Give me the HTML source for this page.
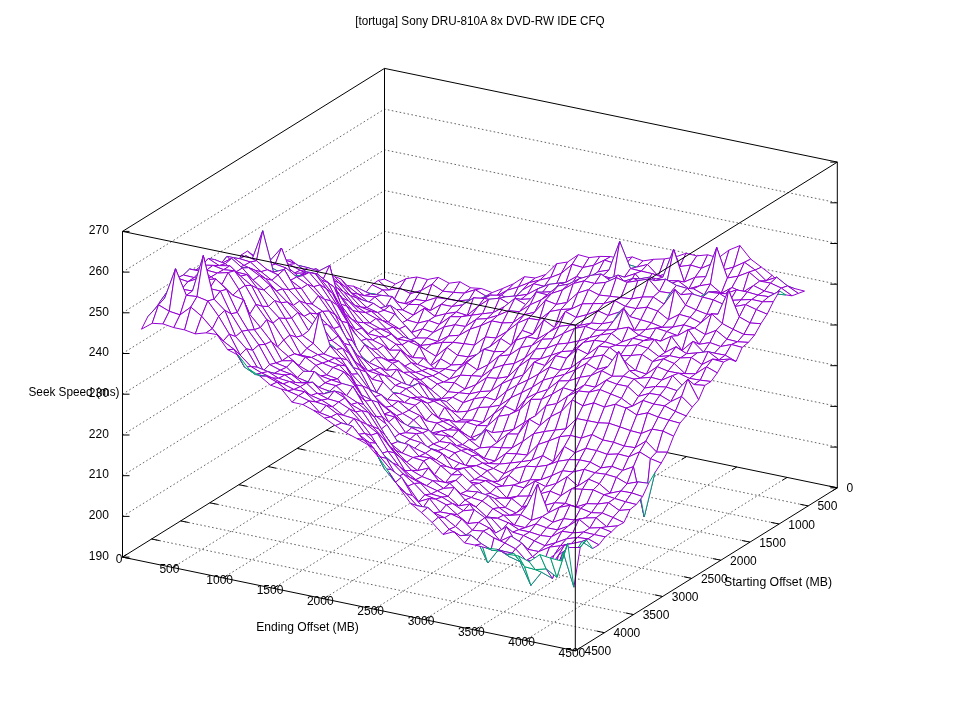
<!DOCTYPE html>
<html><head><meta charset="utf-8"><style>
html,body{margin:0;padding:0;background:#fff;}
svg{display:block;will-change:transform;}
.g{fill:none;stroke:#222;stroke-width:.7;stroke-dasharray:1.6 2.4;}
.b{fill:none;stroke:#000;stroke-width:1;}
.s{fill:#fff;stroke:#9400d3;stroke-width:1;stroke-linejoin:round;}
.t{fill:#fff;stroke:#009e73;stroke-width:1;stroke-linejoin:round;}
text{font-family:"Liberation Sans",sans-serif;font-size:12px;fill:#000;}
</style></head><body>
<svg width="960" height="720" viewBox="0 0 960 720">
<rect width="960" height="720" fill="#fff"/>
<g><path class="g" d="M122.5 516.4 L384.5 353.4 L837.3 447.1"/>
<path class="g" d="M122.5 475.7 L384.5 312.7 L837.3 406.4"/>
<path class="g" d="M122.5 435 L384.5 272 L837.3 365.7"/>
<path class="g" d="M122.5 394.2 L384.5 231.3 L837.3 325"/>
<path class="g" d="M122.5 353.5 L384.5 190.5 L837.3 284.2"/>
<path class="g" d="M122.5 312.8 L384.5 149.8 L837.3 243.5"/>
<path class="g" d="M122.5 272.1 L384.5 109.1 L837.3 202.8"/>
<path class="g" d="M434.8 404.5 L172.8 567.5"/>
<path class="g" d="M355.4 412.2 L808.2 505.9"/>
<path class="g" d="M485.1 414.9 L223.1 577.9"/>
<path class="g" d="M326.3 430.3 L779.1 524"/>
<path class="g" d="M535.4 425.3 L273.4 588.3"/>
<path class="g" d="M297.2 448.4 L750 542.1"/>
<path class="g" d="M585.7 435.7 L323.7 598.7"/>
<path class="g" d="M268.1 466.5 L720.9 560.2"/>
<path class="g" d="M636.1 446.2 L374.1 609.2"/>
<path class="g" d="M238.9 484.7 L691.7 578.4"/>
<path class="g" d="M686.4 456.6 L424.4 619.6"/>
<path class="g" d="M209.8 502.8 L662.6 596.5"/>
<path class="g" d="M736.7 467 L474.7 630"/>
<path class="g" d="M180.7 520.9 L633.5 614.6"/>
<path class="g" d="M787 477.4 L525 640.4"/>
<path class="g" d="M151.6 539 L604.4 632.7"/>
<path class="b" d="M122.5 231.4 L384.5 68.4 L837.3 162.1"/>
<path class="b" d="M384.5 394.1 L384.5 68.4"/>
<path class="b" d="M122.5 557.1 L384.5 394.1 L837.3 487.8"/>
<path class="b" d="M122.5 557.1 L575.3 650.8 L837.3 487.8"/>
<path class="b" d="M122.5 557.1 L122.5 231.4"/>
<path class="b" d="M837.3 487.8 L837.3 162.1"/>
<path class="b" d="M122.5 557.1 L127.1 554.2"/>
<path class="b" d="M384.5 394.1 L379.9 397"/>
<path class="b" d="M837.3 487.8 L829.4 486.2"/>
<path class="b" d="M384.5 394.1 L392.4 395.7"/>
<path class="b" d="M172.8 567.5 L177.4 564.6"/>
<path class="b" d="M434.8 404.5 L430.2 407.4"/>
<path class="b" d="M808.2 505.9 L800.2 504.3"/>
<path class="b" d="M355.4 412.2 L363.3 413.9"/>
<path class="b" d="M223.1 577.9 L227.7 575.1"/>
<path class="b" d="M485.1 414.9 L480.5 417.8"/>
<path class="b" d="M779.1 524 L771.1 522.4"/>
<path class="b" d="M326.3 430.3 L334.2 432"/>
<path class="b" d="M273.4 588.3 L278 585.5"/>
<path class="b" d="M535.4 425.3 L530.8 428.2"/>
<path class="b" d="M750 542.1 L742 540.5"/>
<path class="b" d="M297.2 448.4 L305.1 450.1"/>
<path class="b" d="M323.7 598.7 L328.3 595.9"/>
<path class="b" d="M585.7 435.7 L581.1 438.6"/>
<path class="b" d="M720.9 560.2 L712.9 558.6"/>
<path class="b" d="M268.1 466.5 L276 468.2"/>
<path class="b" d="M374.1 609.2 L378.7 606.3"/>
<path class="b" d="M636.1 446.2 L631.5 449"/>
<path class="b" d="M691.7 578.4 L683.8 576.7"/>
<path class="b" d="M238.9 484.7 L246.9 486.3"/>
<path class="b" d="M424.4 619.6 L429 616.7"/>
<path class="b" d="M686.4 456.6 L681.8 459.4"/>
<path class="b" d="M662.6 596.5 L654.7 594.8"/>
<path class="b" d="M209.8 502.8 L217.8 504.4"/>
<path class="b" d="M474.7 630 L479.3 627.1"/>
<path class="b" d="M736.7 467 L732.1 469.8"/>
<path class="b" d="M633.5 614.6 L625.6 612.9"/>
<path class="b" d="M180.7 520.9 L188.7 522.5"/>
<path class="b" d="M525 640.4 L529.6 637.5"/>
<path class="b" d="M787 477.4 L782.4 480.3"/>
<path class="b" d="M604.4 632.7 L596.5 631"/>
<path class="b" d="M151.6 539 L159.6 540.6"/>
<path class="b" d="M575.3 650.8 L579.9 647.9"/>
<path class="b" d="M837.3 487.8 L832.7 490.7"/>
<path class="b" d="M575.3 650.8 L567.4 649.2"/>
<path class="b" d="M122.5 557.1 L130.4 558.7"/>
<path class="b" d="M122.5 557.1 L129.5 557.1"/>
<path class="b" d="M837.3 487.8 L830.3 487.8"/>
<path class="b" d="M122.5 516.4 L129.5 516.4"/>
<path class="b" d="M837.3 447.1 L830.3 447.1"/>
<path class="b" d="M122.5 475.7 L129.5 475.7"/>
<path class="b" d="M837.3 406.4 L830.3 406.4"/>
<path class="b" d="M122.5 435 L129.5 435"/>
<path class="b" d="M837.3 365.7 L830.3 365.7"/>
<path class="b" d="M122.5 394.2 L129.5 394.2"/>
<path class="b" d="M837.3 325 L830.3 325"/>
<path class="b" d="M122.5 353.5 L129.5 353.5"/>
<path class="b" d="M837.3 284.2 L830.3 284.2"/>
<path class="b" d="M122.5 312.8 L129.5 312.8"/>
<path class="b" d="M837.3 243.5 L830.3 243.5"/>
<path class="b" d="M122.5 272.1 L129.5 272.1"/>
<path class="b" d="M837.3 202.8 L830.3 202.8"/>
<path class="b" d="M122.5 231.4 L129.5 231.4"/>
<path class="b" d="M837.3 162.1 L830.3 162.1"/></g>
<g><path class="s" d="M384.5 279.1 L395.3 284.1 L389.0 290.1 L378.3 280.4Z"/>
<path class="s" d="M378.3 280.4 L389.0 290.1 L382.8 290.0 L372.0 284.8Z"/>
<path class="s" d="M372.0 284.8 L382.8 290.0 L376.6 294.5 L365.8 292.6Z"/>
<path class="t" d="M365.8 292.6 L376.6 294.5 L370.3 294.1 L359.6 288.8Z"/>
<path class="s" d="M359.6 288.8 L370.3 294.1 L364.1 295.7 L353.3 286.2Z"/>
<path class="s" d="M353.3 286.2 L364.1 295.7 L357.9 294.0 L347.1 285.5Z"/>
<path class="s" d="M347.1 285.5 L357.9 294.0 L351.7 293.2 L340.9 278.9Z"/>
<path class="s" d="M340.9 278.9 L351.7 293.2 L345.4 287.2 L334.6 276.6Z"/>
<path class="s" d="M334.6 276.6 L345.4 287.2 L339.2 283.0 L328.4 274.1Z"/>
<path class="s" d="M328.4 274.1 L339.2 283.0 L333.0 280.5 L322.2 272.4Z"/>
<path class="s" d="M322.2 272.4 L333.0 280.5 L326.7 279.5 L316.0 268.6Z"/>
<path class="s" d="M316.0 268.6 L326.7 279.5 L320.5 271.4 L309.7 270.3Z"/>
<path class="s" d="M309.7 270.3 L320.5 271.4 L314.3 272.7 L303.5 266.7Z"/>
<path class="t" d="M303.5 266.7 L314.3 272.7 L308.0 267.7 L297.3 265.2Z"/>
<path class="s" d="M297.3 265.2 L308.0 267.7 L301.8 271.6 L291.0 259.9Z"/>
<path class="s" d="M291.0 259.9 L301.8 271.6 L295.6 263.6 L284.8 260.0Z"/>
<path class="s" d="M284.8 260.0 L295.6 263.6 L289.3 264.5 L278.6 259.6Z"/>
<path class="s" d="M278.6 259.6 L289.3 264.5 L283.1 266.6 L272.3 259.8Z"/>
<path class="s" d="M272.3 259.8 L283.1 266.6 L276.9 262.4 L266.1 257.2Z"/>
<path class="s" d="M266.1 257.2 L276.9 262.4 L270.6 260.0 L259.9 255.5Z"/>
<path class="s" d="M259.9 255.5 L270.6 260.0 L264.4 258.1 L253.6 255.4Z"/>
<path class="s" d="M253.6 255.4 L264.4 258.1 L258.2 260.7 L247.4 251.1Z"/>
<path class="s" d="M247.4 251.1 L258.2 260.7 L251.9 260.0 L241.2 255.0Z"/>
<path class="s" d="M241.2 255.0 L251.9 260.0 L245.7 255.8 L234.9 269.0Z"/>
<path class="t" d="M234.9 269.0 L245.7 255.8 L239.5 258.7 L228.7 269.0Z"/>
<path class="t" d="M228.7 269.0 L239.5 258.7 L233.3 257.6 L222.5 266.3Z"/>
<path class="t" d="M222.5 266.3 L233.3 257.6 L227.0 256.4 L216.3 269.3Z"/>
<path class="t" d="M216.3 269.3 L227.0 256.4 L220.8 263.8 L210.0 270.2Z"/>
<path class="t" d="M210.0 270.2 L220.8 263.8 L214.6 259.6 L203.8 273.2Z"/>
<path class="t" d="M203.8 273.2 L214.6 259.6 L208.3 258.5 L197.6 270.6Z"/>
<path class="s" d="M197.6 270.6 L208.3 258.5 L202.1 265.1 L191.3 283.2Z"/>
<path class="t" d="M191.3 283.2 L202.1 265.1 L195.9 270.1 L185.1 284.4Z"/>
<path class="t" d="M185.1 284.4 L195.9 270.1 L189.6 269.1 L178.9 281.3Z"/>
<path class="t" d="M178.9 281.3 L189.6 269.1 L183.4 275.0 L172.6 289.5Z"/>
<path class="t" d="M172.6 289.5 L183.4 275.0 L177.2 278.0 L166.4 293.5Z"/>
<path class="t" d="M166.4 293.5 L177.2 278.0 L170.9 286.6 L160.2 301.4Z"/>
<path class="s" d="M160.2 301.4 L170.9 286.6 L164.7 298.1 L153.9 310.8Z"/>
<path class="t" d="M153.9 310.8 L164.7 298.1 L158.5 304.9 L147.7 316.8Z"/>
<path class="s" d="M147.7 316.8 L158.5 304.9 L152.2 323.3 L141.5 329.2Z"/>
<path class="s" d="M395.3 284.1 L406.0 278.7 L399.8 288.1 L389.0 290.1Z"/>
<path class="s" d="M389.0 290.1 L399.8 288.1 L393.6 300.9 L382.8 290.0Z"/>
<path class="s" d="M382.8 290.0 L393.6 300.9 L387.3 300.4 L376.6 294.5Z"/>
<path class="t" d="M376.6 294.5 L387.3 300.4 L381.1 295.3 L370.3 294.1Z"/>
<path class="s" d="M370.3 294.1 L381.1 295.3 L374.9 297.0 L364.1 295.7Z"/>
<path class="s" d="M364.1 295.7 L374.9 297.0 L368.7 302.3 L357.9 294.0Z"/>
<path class="s" d="M357.9 294.0 L368.7 302.3 L362.4 300.0 L351.7 293.2Z"/>
<path class="s" d="M351.7 293.2 L362.4 300.0 L356.2 297.8 L345.4 287.2Z"/>
<path class="s" d="M345.4 287.2 L356.2 297.8 L350.0 295.4 L339.2 283.0Z"/>
<path class="s" d="M339.2 283.0 L350.0 295.4 L343.7 291.8 L333.0 280.5Z"/>
<path class="s" d="M333.0 280.5 L343.7 291.8 L337.5 288.1 L326.7 279.5Z"/>
<path class="t" d="M326.7 279.5 L337.5 288.1 L331.3 283.3 L320.5 271.4Z"/>
<path class="s" d="M320.5 271.4 L331.3 283.3 L325.0 277.9 L314.3 272.7Z"/>
<path class="t" d="M314.3 272.7 L325.0 277.9 L318.8 271.1 L308.0 267.7Z"/>
<path class="s" d="M308.0 267.7 L318.8 271.1 L312.6 278.8 L301.8 271.6Z"/>
<path class="t" d="M301.8 271.6 L312.6 278.8 L306.3 271.8 L295.6 263.6Z"/>
<path class="s" d="M295.6 263.6 L306.3 271.8 L300.1 270.3 L289.3 264.5Z"/>
<path class="s" d="M289.3 264.5 L300.1 270.3 L293.9 273.4 L283.1 266.6Z"/>
<path class="t" d="M283.1 266.6 L293.9 273.4 L287.6 267.3 L276.9 262.4Z"/>
<path class="t" d="M276.9 262.4 L287.6 267.3 L281.4 248.0 L270.6 260.0Z"/>
<path class="s" d="M270.6 260.0 L281.4 248.0 L275.2 264.1 L264.4 258.1Z"/>
<path class="s" d="M264.4 258.1 L275.2 264.1 L269.0 266.3 L258.2 260.7Z"/>
<path class="t" d="M258.2 260.7 L269.0 266.3 L262.7 230.8 L251.9 260.0Z"/>
<path class="s" d="M251.9 260.0 L262.7 230.8 L256.5 260.8 L245.7 255.8Z"/>
<path class="s" d="M245.7 255.8 L256.5 260.8 L250.3 262.0 L239.5 258.7Z"/>
<path class="s" d="M239.5 258.7 L250.3 262.0 L244.0 265.5 L233.3 257.6Z"/>
<path class="s" d="M233.3 257.6 L244.0 265.5 L237.8 267.8 L227.0 256.4Z"/>
<path class="s" d="M227.0 256.4 L237.8 267.8 L231.6 258.4 L220.8 263.8Z"/>
<path class="s" d="M220.8 263.8 L231.6 258.4 L225.3 263.8 L214.6 259.6Z"/>
<path class="s" d="M214.6 259.6 L225.3 263.8 L219.1 265.6 L208.3 258.5Z"/>
<path class="s" d="M208.3 258.5 L219.1 265.6 L212.9 265.4 L202.1 265.1Z"/>
<path class="s" d="M202.1 265.1 L212.9 265.4 L206.6 270.2 L195.9 270.1Z"/>
<path class="s" d="M195.9 270.1 L206.6 270.2 L200.4 271.2 L189.6 269.1Z"/>
<path class="s" d="M189.6 269.1 L200.4 271.2 L194.2 277.6 L183.4 275.0Z"/>
<path class="s" d="M183.4 275.0 L194.2 277.6 L187.9 281.7 L177.2 278.0Z"/>
<path class="s" d="M177.2 278.0 L187.9 281.7 L181.7 289.2 L170.9 286.6Z"/>
<path class="t" d="M170.9 286.6 L181.7 289.2 L175.5 268.8 L164.7 298.1Z"/>
<path class="s" d="M164.7 298.1 L175.5 268.8 L169.3 311.3 L158.5 304.9Z"/>
<path class="s" d="M158.5 304.9 L169.3 311.3 L163.0 323.9 L152.2 323.3Z"/>
<path class="s" d="M406.0 278.7 L416.8 277.0 L410.6 293.7 L399.8 288.1Z"/>
<path class="s" d="M399.8 288.1 L410.6 293.7 L404.3 304.1 L393.6 300.9Z"/>
<path class="s" d="M393.6 300.9 L404.3 304.1 L398.1 302.2 L387.3 300.4Z"/>
<path class="t" d="M387.3 300.4 L398.1 302.2 L391.9 296.5 L381.1 295.3Z"/>
<path class="s" d="M381.1 295.3 L391.9 296.5 L385.7 307.1 L374.9 297.0Z"/>
<path class="s" d="M374.9 297.0 L385.7 307.1 L379.4 308.2 L368.7 302.3Z"/>
<path class="t" d="M368.7 302.3 L379.4 308.2 L373.2 303.3 L362.4 300.0Z"/>
<path class="s" d="M362.4 300.0 L373.2 303.3 L367.0 307.7 L356.2 297.8Z"/>
<path class="s" d="M356.2 297.8 L367.0 307.7 L360.7 307.1 L350.0 295.4Z"/>
<path class="s" d="M350.0 295.4 L360.7 307.1 L354.5 305.3 L343.7 291.8Z"/>
<path class="s" d="M343.7 291.8 L354.5 305.3 L348.3 300.8 L337.5 288.1Z"/>
<path class="s" d="M337.5 288.1 L348.3 300.8 L342.0 298.1 L331.3 283.3Z"/>
<path class="s" d="M331.3 283.3 L342.0 298.1 L335.8 289.3 L325.0 277.9Z"/>
<path class="t" d="M325.0 277.9 L335.8 289.3 L329.6 265.5 L318.8 271.1Z"/>
<path class="s" d="M318.8 271.1 L329.6 265.5 L323.3 278.9 L312.6 278.8Z"/>
<path class="t" d="M312.6 278.8 L323.3 278.9 L317.1 273.9 L306.3 271.8Z"/>
<path class="s" d="M306.3 271.8 L317.1 273.9 L310.9 275.8 L300.1 270.3Z"/>
<path class="s" d="M300.1 270.3 L310.9 275.8 L304.6 273.0 L293.9 273.4Z"/>
<path class="s" d="M293.9 273.4 L304.6 273.0 L298.4 276.2 L287.6 267.3Z"/>
<path class="s" d="M287.6 267.3 L298.4 276.2 L292.2 275.7 L281.4 248.0Z"/>
<path class="s" d="M281.4 248.0 L292.2 275.7 L286.0 268.0 L275.2 264.1Z"/>
<path class="s" d="M275.2 264.1 L286.0 268.0 L279.7 272.2 L269.0 266.3Z"/>
<path class="t" d="M269.0 266.3 L279.7 272.2 L273.5 272.1 L262.7 230.8Z"/>
<path class="s" d="M262.7 230.8 L273.5 272.1 L267.3 269.8 L256.5 260.8Z"/>
<path class="s" d="M256.5 260.8 L267.3 269.8 L261.0 271.7 L250.3 262.0Z"/>
<path class="s" d="M250.3 262.0 L261.0 271.7 L254.8 270.3 L244.0 265.5Z"/>
<path class="s" d="M244.0 265.5 L254.8 270.3 L248.6 267.7 L237.8 267.8Z"/>
<path class="t" d="M237.8 267.8 L248.6 267.7 L242.3 268.0 L231.6 258.4Z"/>
<path class="s" d="M231.6 258.4 L242.3 268.0 L236.1 272.0 L225.3 263.8Z"/>
<path class="s" d="M225.3 263.8 L236.1 272.0 L229.9 265.8 L219.1 265.6Z"/>
<path class="s" d="M219.1 265.6 L229.9 265.8 L223.6 269.7 L212.9 265.4Z"/>
<path class="s" d="M212.9 265.4 L223.6 269.7 L217.4 273.1 L206.6 270.2Z"/>
<path class="s" d="M206.6 270.2 L217.4 273.1 L211.2 276.9 L200.4 271.2Z"/>
<path class="s" d="M200.4 271.2 L211.2 276.9 L204.9 279.8 L194.2 277.6Z"/>
<path class="s" d="M194.2 277.6 L204.9 279.8 L198.7 278.3 L187.9 281.7Z"/>
<path class="s" d="M187.9 281.7 L198.7 278.3 L192.5 291.0 L181.7 289.2Z"/>
<path class="s" d="M181.7 289.2 L192.5 291.0 L186.3 295.3 L175.5 268.8Z"/>
<path class="s" d="M175.5 268.8 L186.3 295.3 L180.0 314.9 L169.3 311.3Z"/>
<path class="s" d="M169.3 311.3 L180.0 314.9 L173.8 327.6 L163.0 323.9Z"/>
<path class="s" d="M416.8 277.0 L427.6 279.5 L421.3 290.5 L410.6 293.7Z"/>
<path class="s" d="M410.6 293.7 L421.3 290.5 L415.1 299.4 L404.3 304.1Z"/>
<path class="s" d="M404.3 304.1 L415.1 299.4 L408.9 304.4 L398.1 302.2Z"/>
<path class="s" d="M398.1 302.2 L408.9 304.4 L402.7 310.0 L391.9 296.5Z"/>
<path class="s" d="M391.9 296.5 L402.7 310.0 L396.4 309.5 L385.7 307.1Z"/>
<path class="t" d="M385.7 307.1 L396.4 309.5 L390.2 305.3 L379.4 308.2Z"/>
<path class="s" d="M379.4 308.2 L390.2 305.3 L384.0 310.3 L373.2 303.3Z"/>
<path class="s" d="M373.2 303.3 L384.0 310.3 L377.7 312.6 L367.0 307.7Z"/>
<path class="s" d="M367.0 307.7 L377.7 312.6 L371.5 311.4 L360.7 307.1Z"/>
<path class="s" d="M360.7 307.1 L371.5 311.4 L365.3 312.5 L354.5 305.3Z"/>
<path class="s" d="M354.5 305.3 L365.3 312.5 L359.0 311.9 L348.3 300.8Z"/>
<path class="s" d="M348.3 300.8 L359.0 311.9 L352.8 310.7 L342.0 298.1Z"/>
<path class="s" d="M342.0 298.1 L352.8 310.7 L346.6 306.0 L335.8 289.3Z"/>
<path class="s" d="M335.8 289.3 L346.6 306.0 L340.3 304.1 L329.6 265.5Z"/>
<path class="s" d="M329.6 265.5 L340.3 304.1 L334.1 287.2 L323.3 278.9Z"/>
<path class="s" d="M323.3 278.9 L334.1 287.2 L327.9 282.6 L317.1 273.9Z"/>
<path class="s" d="M317.1 273.9 L327.9 282.6 L321.6 280.1 L310.9 275.8Z"/>
<path class="t" d="M310.9 275.8 L321.6 280.1 L315.4 273.9 L304.6 273.0Z"/>
<path class="s" d="M304.6 273.0 L315.4 273.9 L309.2 272.5 L298.4 276.2Z"/>
<path class="s" d="M298.4 276.2 L309.2 272.5 L303.0 275.6 L292.2 275.7Z"/>
<path class="t" d="M292.2 275.7 L303.0 275.6 L296.7 277.0 L286.0 268.0Z"/>
<path class="s" d="M286.0 268.0 L296.7 277.0 L290.5 280.3 L279.7 272.2Z"/>
<path class="t" d="M279.7 272.2 L290.5 280.3 L284.3 269.4 L273.5 272.1Z"/>
<path class="s" d="M273.5 272.1 L284.3 269.4 L278.0 274.9 L267.3 269.8Z"/>
<path class="s" d="M267.3 269.8 L278.0 274.9 L271.8 280.3 L261.0 271.7Z"/>
<path class="s" d="M261.0 271.7 L271.8 280.3 L265.6 278.7 L254.8 270.3Z"/>
<path class="s" d="M254.8 270.3 L265.6 278.7 L259.3 275.7 L248.6 267.7Z"/>
<path class="s" d="M248.6 267.7 L259.3 275.7 L253.1 280.1 L242.3 268.0Z"/>
<path class="s" d="M242.3 268.0 L253.1 280.1 L246.9 274.7 L236.1 272.0Z"/>
<path class="s" d="M236.1 272.0 L246.9 274.7 L240.6 276.2 L229.9 265.8Z"/>
<path class="s" d="M229.9 265.8 L240.6 276.2 L234.4 270.8 L223.6 269.7Z"/>
<path class="s" d="M223.6 269.7 L234.4 270.8 L228.2 272.6 L217.4 273.1Z"/>
<path class="s" d="M217.4 273.1 L228.2 272.6 L221.9 284.5 L211.2 276.9Z"/>
<path class="s" d="M211.2 276.9 L221.9 284.5 L215.7 279.0 L204.9 279.8Z"/>
<path class="s" d="M204.9 279.8 L215.7 279.0 L209.5 288.5 L198.7 278.3Z"/>
<path class="t" d="M198.7 278.3 L209.5 288.5 L203.3 255.6 L192.5 291.0Z"/>
<path class="s" d="M192.5 291.0 L203.3 255.6 L197.0 296.6 L186.3 295.3Z"/>
<path class="s" d="M186.3 295.3 L197.0 296.6 L190.8 307.1 L180.0 314.9Z"/>
<path class="s" d="M180.0 314.9 L190.8 307.1 L184.6 329.9 L173.8 327.6Z"/>
<path class="s" d="M427.6 279.5 L438.3 277.4 L432.1 284.3 L421.3 290.5Z"/>
<path class="s" d="M421.3 290.5 L432.1 284.3 L425.9 301.0 L415.1 299.4Z"/>
<path class="s" d="M415.1 299.4 L425.9 301.0 L419.7 304.6 L408.9 304.4Z"/>
<path class="s" d="M408.9 304.4 L419.7 304.6 L413.4 315.2 L402.7 310.0Z"/>
<path class="s" d="M402.7 310.0 L413.4 315.2 L407.2 320.1 L396.4 309.5Z"/>
<path class="s" d="M396.4 309.5 L407.2 320.1 L401.0 323.4 L390.2 305.3Z"/>
<path class="s" d="M390.2 305.3 L401.0 323.4 L394.7 314.0 L384.0 310.3Z"/>
<path class="s" d="M384.0 310.3 L394.7 314.0 L388.5 322.3 L377.7 312.6Z"/>
<path class="s" d="M377.7 312.6 L388.5 322.3 L382.3 320.5 L371.5 311.4Z"/>
<path class="s" d="M371.5 311.4 L382.3 320.5 L376.0 318.5 L365.3 312.5Z"/>
<path class="s" d="M365.3 312.5 L376.0 318.5 L369.8 323.1 L359.0 311.9Z"/>
<path class="s" d="M359.0 311.9 L369.8 323.1 L363.6 322.7 L352.8 310.7Z"/>
<path class="s" d="M352.8 310.7 L363.6 322.7 L357.3 322.2 L346.6 306.0Z"/>
<path class="s" d="M346.6 306.0 L357.3 322.2 L351.1 318.8 L340.3 304.1Z"/>
<path class="s" d="M340.3 304.1 L351.1 318.8 L344.9 313.9 L334.1 287.2Z"/>
<path class="s" d="M334.1 287.2 L344.9 313.9 L338.6 303.2 L327.9 282.6Z"/>
<path class="s" d="M327.9 282.6 L338.6 303.2 L332.4 293.4 L321.6 280.1Z"/>
<path class="s" d="M321.6 280.1 L332.4 293.4 L326.2 288.6 L315.4 273.9Z"/>
<path class="s" d="M315.4 273.9 L326.2 288.6 L320.0 284.9 L309.2 272.5Z"/>
<path class="s" d="M309.2 272.5 L320.0 284.9 L313.7 286.7 L303.0 275.6Z"/>
<path class="s" d="M303.0 275.6 L313.7 286.7 L307.5 284.5 L296.7 277.0Z"/>
<path class="s" d="M296.7 277.0 L307.5 284.5 L301.3 288.5 L290.5 280.3Z"/>
<path class="s" d="M290.5 280.3 L301.3 288.5 L295.0 288.3 L284.3 269.4Z"/>
<path class="s" d="M284.3 269.4 L295.0 288.3 L288.8 289.8 L278.0 274.9Z"/>
<path class="s" d="M278.0 274.9 L288.8 289.8 L282.6 289.0 L271.8 280.3Z"/>
<path class="s" d="M271.8 280.3 L282.6 289.0 L276.3 290.9 L265.6 278.7Z"/>
<path class="s" d="M265.6 278.7 L276.3 290.9 L270.1 285.4 L259.3 275.7Z"/>
<path class="s" d="M259.3 275.7 L270.1 285.4 L263.9 290.0 L253.1 280.1Z"/>
<path class="s" d="M253.1 280.1 L263.9 290.0 L257.6 288.7 L246.9 274.7Z"/>
<path class="s" d="M246.9 274.7 L257.6 288.7 L251.4 285.4 L240.6 276.2Z"/>
<path class="s" d="M240.6 276.2 L251.4 285.4 L245.2 285.5 L234.4 270.8Z"/>
<path class="s" d="M234.4 270.8 L245.2 285.5 L238.9 289.5 L228.2 272.6Z"/>
<path class="s" d="M228.2 272.6 L238.9 289.5 L232.7 295.3 L221.9 284.5Z"/>
<path class="s" d="M221.9 284.5 L232.7 295.3 L226.5 289.4 L215.7 279.0Z"/>
<path class="s" d="M215.7 279.0 L226.5 289.4 L220.3 291.1 L209.5 288.5Z"/>
<path class="s" d="M209.5 288.5 L220.3 291.1 L214.0 299.2 L203.3 255.6Z"/>
<path class="s" d="M203.3 255.6 L214.0 299.2 L207.8 301.0 L197.0 296.6Z"/>
<path class="s" d="M197.0 296.6 L207.8 301.0 L201.6 316.2 L190.8 307.1Z"/>
<path class="s" d="M190.8 307.1 L201.6 316.2 L195.3 333.9 L184.6 329.9Z"/>
<path class="s" d="M438.3 277.4 L449.1 283.2 L442.9 291.2 L432.1 284.3Z"/>
<path class="s" d="M432.1 284.3 L442.9 291.2 L436.7 297.6 L425.9 301.0Z"/>
<path class="s" d="M425.9 301.0 L436.7 297.6 L430.4 310.6 L419.7 304.6Z"/>
<path class="s" d="M419.7 304.6 L430.4 310.6 L424.2 308.4 L413.4 315.2Z"/>
<path class="s" d="M413.4 315.2 L424.2 308.4 L418.0 323.1 L407.2 320.1Z"/>
<path class="s" d="M407.2 320.1 L418.0 323.1 L411.7 332.5 L401.0 323.4Z"/>
<path class="t" d="M401.0 323.4 L411.7 332.5 L405.5 326.0 L394.7 314.0Z"/>
<path class="s" d="M394.7 314.0 L405.5 326.0 L399.3 328.9 L388.5 322.3Z"/>
<path class="s" d="M388.5 322.3 L399.3 328.9 L393.0 327.1 L382.3 320.5Z"/>
<path class="s" d="M382.3 320.5 L393.0 327.1 L386.8 329.4 L376.0 318.5Z"/>
<path class="s" d="M376.0 318.5 L386.8 329.4 L380.6 329.0 L369.8 323.1Z"/>
<path class="s" d="M369.8 323.1 L380.6 329.0 L374.3 329.3 L363.6 322.7Z"/>
<path class="s" d="M363.6 322.7 L374.3 329.3 L368.1 333.8 L357.3 322.2Z"/>
<path class="s" d="M357.3 322.2 L368.1 333.8 L361.9 328.3 L351.1 318.8Z"/>
<path class="s" d="M351.1 318.8 L361.9 328.3 L355.6 330.0 L344.9 313.9Z"/>
<path class="s" d="M344.9 313.9 L355.6 330.0 L349.4 324.7 L338.6 303.2Z"/>
<path class="s" d="M338.6 303.2 L349.4 324.7 L343.2 314.6 L332.4 293.4Z"/>
<path class="s" d="M332.4 293.4 L343.2 314.6 L337.0 305.1 L326.2 288.6Z"/>
<path class="s" d="M326.2 288.6 L337.0 305.1 L330.7 300.8 L320.0 284.9Z"/>
<path class="s" d="M320.0 284.9 L330.7 300.8 L324.5 299.4 L313.7 286.7Z"/>
<path class="s" d="M313.7 286.7 L324.5 299.4 L318.3 295.8 L307.5 284.5Z"/>
<path class="s" d="M307.5 284.5 L318.3 295.8 L312.0 304.1 L301.3 288.5Z"/>
<path class="s" d="M301.3 288.5 L312.0 304.1 L305.8 303.3 L295.0 288.3Z"/>
<path class="s" d="M295.0 288.3 L305.8 303.3 L299.6 301.0 L288.8 289.8Z"/>
<path class="s" d="M288.8 289.8 L299.6 301.0 L293.3 305.5 L282.6 289.0Z"/>
<path class="s" d="M282.6 289.0 L293.3 305.5 L287.1 302.0 L276.3 290.9Z"/>
<path class="s" d="M276.3 290.9 L287.1 302.0 L280.9 302.8 L270.1 285.4Z"/>
<path class="s" d="M270.1 285.4 L280.9 302.8 L274.6 300.6 L263.9 290.0Z"/>
<path class="s" d="M263.9 290.0 L274.6 300.6 L268.4 306.5 L257.6 288.7Z"/>
<path class="s" d="M257.6 288.7 L268.4 306.5 L262.2 306.3 L251.4 285.4Z"/>
<path class="s" d="M251.4 285.4 L262.2 306.3 L255.9 304.4 L245.2 285.5Z"/>
<path class="s" d="M245.2 285.5 L255.9 304.4 L249.7 314.3 L238.9 289.5Z"/>
<path class="s" d="M238.9 289.5 L249.7 314.3 L243.5 299.8 L232.7 295.3Z"/>
<path class="s" d="M232.7 295.3 L243.5 299.8 L237.3 312.5 L226.5 289.4Z"/>
<path class="s" d="M226.5 289.4 L237.3 312.5 L231.0 313.8 L220.3 291.1Z"/>
<path class="s" d="M220.3 291.1 L231.0 313.8 L224.8 310.4 L214.0 299.2Z"/>
<path class="s" d="M214.0 299.2 L224.8 310.4 L218.6 316.3 L207.8 301.0Z"/>
<path class="s" d="M207.8 301.0 L218.6 316.3 L212.3 328.7 L201.6 316.2Z"/>
<path class="s" d="M201.6 316.2 L212.3 328.7 L206.1 332.8 L195.3 333.9Z"/>
<path class="s" d="M449.1 283.2 L459.9 281.8 L453.7 292.4 L442.9 291.2Z"/>
<path class="s" d="M442.9 291.2 L453.7 292.4 L447.4 299.1 L436.7 297.6Z"/>
<path class="s" d="M436.7 297.6 L447.4 299.1 L441.2 304.4 L430.4 310.6Z"/>
<path class="s" d="M430.4 310.6 L441.2 304.4 L435.0 316.4 L424.2 308.4Z"/>
<path class="s" d="M424.2 308.4 L435.0 316.4 L428.7 320.5 L418.0 323.1Z"/>
<path class="s" d="M418.0 323.1 L428.7 320.5 L422.5 328.9 L411.7 332.5Z"/>
<path class="s" d="M411.7 332.5 L422.5 328.9 L416.3 338.0 L405.5 326.0Z"/>
<path class="s" d="M405.5 326.0 L416.3 338.0 L410.0 340.1 L399.3 328.9Z"/>
<path class="s" d="M399.3 328.9 L410.0 340.1 L403.8 336.9 L393.0 327.1Z"/>
<path class="s" d="M393.0 327.1 L403.8 336.9 L397.6 339.1 L386.8 329.4Z"/>
<path class="s" d="M386.8 329.4 L397.6 339.1 L391.3 334.1 L380.6 329.0Z"/>
<path class="s" d="M380.6 329.0 L391.3 334.1 L385.1 337.2 L374.3 329.3Z"/>
<path class="s" d="M374.3 329.3 L385.1 337.2 L378.9 336.5 L368.1 333.8Z"/>
<path class="s" d="M368.1 333.8 L378.9 336.5 L372.6 340.1 L361.9 328.3Z"/>
<path class="s" d="M361.9 328.3 L372.6 340.1 L366.4 339.0 L355.6 330.0Z"/>
<path class="s" d="M355.6 330.0 L366.4 339.0 L360.2 341.0 L349.4 324.7Z"/>
<path class="s" d="M349.4 324.7 L360.2 341.0 L354.0 332.5 L343.2 314.6Z"/>
<path class="s" d="M343.2 314.6 L354.0 332.5 L347.7 322.8 L337.0 305.1Z"/>
<path class="s" d="M337.0 305.1 L347.7 322.8 L341.5 321.4 L330.7 300.8Z"/>
<path class="s" d="M330.7 300.8 L341.5 321.4 L335.3 314.9 L324.5 299.4Z"/>
<path class="s" d="M324.5 299.4 L335.3 314.9 L329.0 311.0 L318.3 295.8Z"/>
<path class="s" d="M318.3 295.8 L329.0 311.0 L322.8 311.4 L312.0 304.1Z"/>
<path class="s" d="M312.0 304.1 L322.8 311.4 L316.6 313.9 L305.8 303.3Z"/>
<path class="s" d="M305.8 303.3 L316.6 313.9 L310.3 313.2 L299.6 301.0Z"/>
<path class="s" d="M299.6 301.0 L310.3 313.2 L304.1 316.3 L293.3 305.5Z"/>
<path class="s" d="M293.3 305.5 L304.1 316.3 L297.9 312.5 L287.1 302.0Z"/>
<path class="s" d="M287.1 302.0 L297.9 312.5 L291.6 318.1 L280.9 302.8Z"/>
<path class="s" d="M280.9 302.8 L291.6 318.1 L285.4 318.5 L274.6 300.6Z"/>
<path class="s" d="M274.6 300.6 L285.4 318.5 L279.2 318.1 L268.4 306.5Z"/>
<path class="s" d="M268.4 306.5 L279.2 318.1 L272.9 323.2 L262.2 306.3Z"/>
<path class="s" d="M262.2 306.3 L272.9 323.2 L266.7 319.7 L255.9 304.4Z"/>
<path class="s" d="M255.9 304.4 L266.7 319.7 L260.5 327.5 L249.7 314.3Z"/>
<path class="s" d="M249.7 314.3 L260.5 327.5 L254.3 329.7 L243.5 299.8Z"/>
<path class="s" d="M243.5 299.8 L254.3 329.7 L248.0 330.2 L237.3 312.5Z"/>
<path class="s" d="M237.3 312.5 L248.0 330.2 L241.8 331.3 L231.0 313.8Z"/>
<path class="s" d="M231.0 313.8 L241.8 331.3 L235.6 336.6 L224.8 310.4Z"/>
<path class="s" d="M224.8 310.4 L235.6 336.6 L229.3 334.2 L218.6 316.3Z"/>
<path class="s" d="M218.6 316.3 L229.3 334.2 L223.1 341.0 L212.3 328.7Z"/>
<path class="s" d="M212.3 328.7 L223.1 341.0 L216.9 334.5 L206.1 332.8Z"/>
<path class="s" d="M459.9 281.8 L470.7 287.8 L464.4 293.1 L453.7 292.4Z"/>
<path class="s" d="M453.7 292.4 L464.4 293.1 L458.2 300.9 L447.4 299.1Z"/>
<path class="s" d="M447.4 299.1 L458.2 300.9 L452.0 306.5 L441.2 304.4Z"/>
<path class="s" d="M441.2 304.4 L452.0 306.5 L445.7 313.8 L435.0 316.4Z"/>
<path class="s" d="M435.0 316.4 L445.7 313.8 L439.5 324.4 L428.7 320.5Z"/>
<path class="s" d="M428.7 320.5 L439.5 324.4 L433.3 332.5 L422.5 328.9Z"/>
<path class="s" d="M422.5 328.9 L433.3 332.5 L427.0 338.1 L416.3 338.0Z"/>
<path class="s" d="M416.3 338.0 L427.0 338.1 L420.8 345.5 L410.0 340.1Z"/>
<path class="t" d="M410.0 340.1 L420.8 345.5 L414.6 341.4 L403.8 336.9Z"/>
<path class="s" d="M403.8 336.9 L414.6 341.4 L408.3 341.2 L397.6 339.1Z"/>
<path class="s" d="M397.6 339.1 L408.3 341.2 L402.1 344.9 L391.3 334.1Z"/>
<path class="s" d="M391.3 334.1 L402.1 344.9 L395.9 344.2 L385.1 337.2Z"/>
<path class="s" d="M385.1 337.2 L395.9 344.2 L389.6 350.2 L378.9 336.5Z"/>
<path class="s" d="M378.9 336.5 L389.6 350.2 L383.4 345.6 L372.6 340.1Z"/>
<path class="s" d="M372.6 340.1 L383.4 345.6 L377.2 349.6 L366.4 339.0Z"/>
<path class="s" d="M366.4 339.0 L377.2 349.6 L371.0 348.6 L360.2 341.0Z"/>
<path class="t" d="M360.2 341.0 L371.0 348.6 L364.7 344.8 L354.0 332.5Z"/>
<path class="s" d="M354.0 332.5 L364.7 344.8 L358.5 354.0 L347.7 322.8Z"/>
<path class="s" d="M347.7 322.8 L358.5 354.0 L352.3 340.8 L341.5 321.4Z"/>
<path class="s" d="M341.5 321.4 L352.3 340.8 L346.0 338.4 L335.3 314.9Z"/>
<path class="s" d="M335.3 314.9 L346.0 338.4 L339.8 326.5 L329.0 311.0Z"/>
<path class="s" d="M329.0 311.0 L339.8 326.5 L333.6 328.6 L322.8 311.4Z"/>
<path class="s" d="M322.8 311.4 L333.6 328.6 L327.3 324.6 L316.6 313.9Z"/>
<path class="s" d="M316.6 313.9 L327.3 324.6 L321.1 325.0 L310.3 313.2Z"/>
<path class="s" d="M310.3 313.2 L321.1 325.0 L314.9 326.4 L304.1 316.3Z"/>
<path class="s" d="M304.1 316.3 L314.9 326.4 L308.6 330.7 L297.9 312.5Z"/>
<path class="s" d="M297.9 312.5 L308.6 330.7 L302.4 335.6 L291.6 318.1Z"/>
<path class="s" d="M291.6 318.1 L302.4 335.6 L296.2 337.1 L285.4 318.5Z"/>
<path class="s" d="M285.4 318.5 L296.2 337.1 L289.9 335.1 L279.2 318.1Z"/>
<path class="s" d="M279.2 318.1 L289.9 335.1 L283.7 340.0 L272.9 323.2Z"/>
<path class="s" d="M272.9 323.2 L283.7 340.0 L277.5 347.1 L266.7 319.7Z"/>
<path class="s" d="M266.7 319.7 L277.5 347.1 L271.3 341.4 L260.5 327.5Z"/>
<path class="s" d="M260.5 327.5 L271.3 341.4 L265.0 344.4 L254.3 329.7Z"/>
<path class="s" d="M254.3 329.7 L265.0 344.4 L258.8 344.9 L248.0 330.2Z"/>
<path class="s" d="M248.0 330.2 L258.8 344.9 L252.6 350.3 L241.8 331.3Z"/>
<path class="s" d="M241.8 331.3 L252.6 350.3 L246.3 348.8 L235.6 336.6Z"/>
<path class="s" d="M235.6 336.6 L246.3 348.8 L240.1 355.0 L229.3 334.2Z"/>
<path class="s" d="M229.3 334.2 L240.1 355.0 L233.9 349.3 L223.1 341.0Z"/>
<path class="s" d="M223.1 341.0 L233.9 349.3 L227.6 349.6 L216.9 334.5Z"/>
<path class="s" d="M470.7 287.8 L481.4 288.5 L475.2 289.7 L464.4 293.1Z"/>
<path class="s" d="M464.4 293.1 L475.2 289.7 L469.0 299.9 L458.2 300.9Z"/>
<path class="s" d="M458.2 300.9 L469.0 299.9 L462.7 304.9 L452.0 306.5Z"/>
<path class="s" d="M452.0 306.5 L462.7 304.9 L456.5 312.1 L445.7 313.8Z"/>
<path class="s" d="M445.7 313.8 L456.5 312.1 L450.3 316.7 L439.5 324.4Z"/>
<path class="s" d="M439.5 324.4 L450.3 316.7 L444.0 327.0 L433.3 332.5Z"/>
<path class="s" d="M433.3 332.5 L444.0 327.0 L437.8 341.5 L427.0 338.1Z"/>
<path class="s" d="M427.0 338.1 L437.8 341.5 L431.6 344.2 L420.8 345.5Z"/>
<path class="s" d="M420.8 345.5 L431.6 344.2 L425.3 349.8 L414.6 341.4Z"/>
<path class="s" d="M414.6 341.4 L425.3 349.8 L419.1 346.1 L408.3 341.2Z"/>
<path class="s" d="M408.3 341.2 L419.1 346.1 L412.9 357.7 L402.1 344.9Z"/>
<path class="s" d="M402.1 344.9 L412.9 357.7 L406.6 355.0 L395.9 344.2Z"/>
<path class="s" d="M395.9 344.2 L406.6 355.0 L400.4 350.2 L389.6 350.2Z"/>
<path class="s" d="M389.6 350.2 L400.4 350.2 L394.2 359.0 L383.4 345.6Z"/>
<path class="s" d="M383.4 345.6 L394.2 359.0 L388.0 360.3 L377.2 349.6Z"/>
<path class="s" d="M377.2 349.6 L388.0 360.3 L381.7 357.8 L371.0 348.6Z"/>
<path class="s" d="M371.0 348.6 L381.7 357.8 L375.5 357.8 L364.7 344.8Z"/>
<path class="s" d="M364.7 344.8 L375.5 357.8 L369.3 362.7 L358.5 354.0Z"/>
<path class="t" d="M358.5 354.0 L369.3 362.7 L363.0 358.8 L352.3 340.8Z"/>
<path class="s" d="M352.3 340.8 L363.0 358.8 L356.8 354.9 L346.0 338.4Z"/>
<path class="t" d="M346.0 338.4 L356.8 354.9 L350.6 345.4 L339.8 326.5Z"/>
<path class="s" d="M339.8 326.5 L350.6 345.4 L344.3 343.5 L333.6 328.6Z"/>
<path class="s" d="M333.6 328.6 L344.3 343.5 L338.1 336.1 L327.3 324.6Z"/>
<path class="s" d="M327.3 324.6 L338.1 336.1 L331.9 340.5 L321.1 325.0Z"/>
<path class="s" d="M321.1 325.0 L331.9 340.5 L325.6 340.5 L314.9 326.4Z"/>
<path class="t" d="M314.9 326.4 L325.6 340.5 L319.4 312.8 L308.6 330.7Z"/>
<path class="s" d="M308.6 330.7 L319.4 312.8 L313.2 343.4 L302.4 335.6Z"/>
<path class="s" d="M302.4 335.6 L313.2 343.4 L306.9 348.4 L296.2 337.1Z"/>
<path class="s" d="M296.2 337.1 L306.9 348.4 L300.7 355.2 L289.9 335.1Z"/>
<path class="s" d="M289.9 335.1 L300.7 355.2 L294.5 353.9 L283.7 340.0Z"/>
<path class="s" d="M283.7 340.0 L294.5 353.9 L288.3 356.5 L277.5 347.1Z"/>
<path class="s" d="M277.5 347.1 L288.3 356.5 L282.0 360.8 L271.3 341.4Z"/>
<path class="s" d="M271.3 341.4 L282.0 360.8 L275.8 363.0 L265.0 344.4Z"/>
<path class="s" d="M265.0 344.4 L275.8 363.0 L269.6 364.6 L258.8 344.9Z"/>
<path class="s" d="M258.8 344.9 L269.6 364.6 L263.3 370.8 L252.6 350.3Z"/>
<path class="s" d="M252.6 350.3 L263.3 370.8 L257.1 367.2 L246.3 348.8Z"/>
<path class="s" d="M246.3 348.8 L257.1 367.2 L250.9 366.5 L240.1 355.0Z"/>
<path class="s" d="M240.1 355.0 L250.9 366.5 L244.6 367.1 L233.9 349.3Z"/>
<path class="s" d="M233.9 349.3 L244.6 367.1 L238.4 355.3 L227.6 349.6Z"/>
<path class="s" d="M481.4 288.5 L492.2 292.6 L486.0 296.2 L475.2 289.7Z"/>
<path class="s" d="M475.2 289.7 L486.0 296.2 L479.7 299.1 L469.0 299.9Z"/>
<path class="t" d="M469.0 299.9 L479.7 299.1 L473.5 297.9 L462.7 304.9Z"/>
<path class="s" d="M462.7 304.9 L473.5 297.9 L467.3 315.5 L456.5 312.1Z"/>
<path class="s" d="M456.5 312.1 L467.3 315.5 L461.0 316.8 L450.3 316.7Z"/>
<path class="s" d="M450.3 316.7 L461.0 316.8 L454.8 324.8 L444.0 327.0Z"/>
<path class="s" d="M444.0 327.0 L454.8 324.8 L448.6 336.0 L437.8 341.5Z"/>
<path class="s" d="M437.8 341.5 L448.6 336.0 L442.3 342.4 L431.6 344.2Z"/>
<path class="s" d="M431.6 344.2 L442.3 342.4 L436.1 356.4 L425.3 349.8Z"/>
<path class="s" d="M425.3 349.8 L436.1 356.4 L429.9 366.6 L419.1 346.1Z"/>
<path class="s" d="M419.1 346.1 L429.9 366.6 L423.6 358.2 L412.9 357.7Z"/>
<path class="s" d="M412.9 357.7 L423.6 358.2 L417.4 364.5 L406.6 355.0Z"/>
<path class="s" d="M406.6 355.0 L417.4 364.5 L411.2 362.7 L400.4 350.2Z"/>
<path class="s" d="M400.4 350.2 L411.2 362.7 L405.0 366.1 L394.2 359.0Z"/>
<path class="s" d="M394.2 359.0 L405.0 366.1 L398.7 361.1 L388.0 360.3Z"/>
<path class="s" d="M388.0 360.3 L398.7 361.1 L392.5 363.3 L381.7 357.8Z"/>
<path class="s" d="M381.7 357.8 L392.5 363.3 L386.3 370.4 L375.5 357.8Z"/>
<path class="s" d="M375.5 357.8 L386.3 370.4 L380.0 367.7 L369.3 362.7Z"/>
<path class="s" d="M369.3 362.7 L380.0 367.7 L373.8 369.9 L363.0 358.8Z"/>
<path class="s" d="M363.0 358.8 L373.8 369.9 L367.6 370.7 L356.8 354.9Z"/>
<path class="s" d="M356.8 354.9 L367.6 370.7 L361.3 366.0 L350.6 345.4Z"/>
<path class="s" d="M350.6 345.4 L361.3 366.0 L355.1 361.8 L344.3 343.5Z"/>
<path class="s" d="M344.3 343.5 L355.1 361.8 L348.9 353.2 L338.1 336.1Z"/>
<path class="s" d="M338.1 336.1 L348.9 353.2 L342.6 348.5 L331.9 340.5Z"/>
<path class="s" d="M331.9 340.5 L342.6 348.5 L336.4 349.5 L325.6 340.5Z"/>
<path class="t" d="M325.6 340.5 L336.4 349.5 L330.2 346.0 L319.4 312.8Z"/>
<path class="s" d="M319.4 312.8 L330.2 346.0 L323.9 354.0 L313.2 343.4Z"/>
<path class="s" d="M313.2 343.4 L323.9 354.0 L317.7 354.6 L306.9 348.4Z"/>
<path class="s" d="M306.9 348.4 L317.7 354.6 L311.5 357.5 L300.7 355.2Z"/>
<path class="s" d="M300.7 355.2 L311.5 357.5 L305.3 357.2 L294.5 353.9Z"/>
<path class="s" d="M294.5 353.9 L305.3 357.2 L299.0 365.7 L288.3 356.5Z"/>
<path class="s" d="M288.3 356.5 L299.0 365.7 L292.8 360.8 L282.0 360.8Z"/>
<path class="s" d="M282.0 360.8 L292.8 360.8 L286.6 367.3 L275.8 363.0Z"/>
<path class="s" d="M275.8 363.0 L286.6 367.3 L280.3 370.2 L269.6 364.6Z"/>
<path class="s" d="M269.6 364.6 L280.3 370.2 L274.1 373.4 L263.3 370.8Z"/>
<path class="t" d="M263.3 370.8 L274.1 373.4 L267.9 371.6 L257.1 367.2Z"/>
<path class="s" d="M257.1 367.2 L267.9 371.6 L261.6 373.0 L250.9 366.5Z"/>
<path class="s" d="M250.9 366.5 L261.6 373.0 L255.4 374.5 L244.6 367.1Z"/>
<path class="t" d="M244.6 367.1 L255.4 374.5 L249.2 369.3 L238.4 355.3Z"/>
<path class="s" d="M492.2 292.6 L503.0 288.3 L496.7 295.9 L486.0 296.2Z"/>
<path class="t" d="M486.0 296.2 L496.7 295.9 L490.5 295.2 L479.7 299.1Z"/>
<path class="s" d="M479.7 299.1 L490.5 295.2 L484.3 298.4 L473.5 297.9Z"/>
<path class="s" d="M473.5 297.9 L484.3 298.4 L478.0 306.5 L467.3 315.5Z"/>
<path class="s" d="M467.3 315.5 L478.0 306.5 L471.8 315.2 L461.0 316.8Z"/>
<path class="s" d="M461.0 316.8 L471.8 315.2 L465.6 326.5 L454.8 324.8Z"/>
<path class="s" d="M454.8 324.8 L465.6 326.5 L459.3 335.3 L448.6 336.0Z"/>
<path class="s" d="M448.6 336.0 L459.3 335.3 L453.1 342.4 L442.3 342.4Z"/>
<path class="s" d="M442.3 342.4 L453.1 342.4 L446.9 347.5 L436.1 356.4Z"/>
<path class="s" d="M436.1 356.4 L446.9 347.5 L440.6 358.8 L429.9 366.6Z"/>
<path class="s" d="M429.9 366.6 L440.6 358.8 L434.4 368.8 L423.6 358.2Z"/>
<path class="s" d="M423.6 358.2 L434.4 368.8 L428.2 368.4 L417.4 364.5Z"/>
<path class="s" d="M417.4 364.5 L428.2 368.4 L422.0 370.7 L411.2 362.7Z"/>
<path class="s" d="M411.2 362.7 L422.0 370.7 L415.7 372.4 L405.0 366.1Z"/>
<path class="s" d="M405.0 366.1 L415.7 372.4 L409.5 372.1 L398.7 361.1Z"/>
<path class="s" d="M398.7 361.1 L409.5 372.1 L403.3 372.5 L392.5 363.3Z"/>
<path class="s" d="M392.5 363.3 L403.3 372.5 L397.0 369.3 L386.3 370.4Z"/>
<path class="s" d="M386.3 370.4 L397.0 369.3 L390.8 376.9 L380.0 367.7Z"/>
<path class="s" d="M380.0 367.7 L390.8 376.9 L384.6 375.5 L373.8 369.9Z"/>
<path class="s" d="M373.8 369.9 L384.6 375.5 L378.3 374.3 L367.6 370.7Z"/>
<path class="s" d="M367.6 370.7 L378.3 374.3 L372.1 379.3 L361.3 366.0Z"/>
<path class="s" d="M361.3 366.0 L372.1 379.3 L365.9 371.9 L355.1 361.8Z"/>
<path class="s" d="M355.1 361.8 L365.9 371.9 L359.6 369.7 L348.9 353.2Z"/>
<path class="s" d="M348.9 353.2 L359.6 369.7 L353.4 367.6 L342.6 348.5Z"/>
<path class="s" d="M342.6 348.5 L353.4 367.6 L347.2 360.0 L336.4 349.5Z"/>
<path class="s" d="M336.4 349.5 L347.2 360.0 L340.9 358.4 L330.2 346.0Z"/>
<path class="s" d="M330.2 346.0 L340.9 358.4 L334.7 358.2 L323.9 354.0Z"/>
<path class="s" d="M323.9 354.0 L334.7 358.2 L328.5 361.1 L317.7 354.6Z"/>
<path class="s" d="M317.7 354.6 L328.5 361.1 L322.3 363.1 L311.5 357.5Z"/>
<path class="s" d="M311.5 357.5 L322.3 363.1 L316.0 365.4 L305.3 357.2Z"/>
<path class="s" d="M305.3 357.2 L316.0 365.4 L309.8 372.1 L299.0 365.7Z"/>
<path class="s" d="M299.0 365.7 L309.8 372.1 L303.6 371.3 L292.8 360.8Z"/>
<path class="s" d="M292.8 360.8 L303.6 371.3 L297.3 377.6 L286.6 367.3Z"/>
<path class="s" d="M286.6 367.3 L297.3 377.6 L291.1 374.2 L280.3 370.2Z"/>
<path class="s" d="M280.3 370.2 L291.1 374.2 L284.9 375.0 L274.1 373.4Z"/>
<path class="s" d="M274.1 373.4 L284.9 375.0 L278.6 378.3 L267.9 371.6Z"/>
<path class="s" d="M267.9 371.6 L278.6 378.3 L272.4 378.1 L261.6 373.0Z"/>
<path class="s" d="M261.6 373.0 L272.4 378.1 L266.2 376.2 L255.4 374.5Z"/>
<path class="t" d="M255.4 374.5 L266.2 376.2 L259.9 376.1 L249.2 369.3Z"/>
<path class="s" d="M503.0 288.3 L513.7 283.7 L507.5 290.2 L496.7 295.9Z"/>
<path class="s" d="M496.7 295.9 L507.5 290.2 L501.3 295.3 L490.5 295.2Z"/>
<path class="s" d="M490.5 295.2 L501.3 295.3 L495.0 300.8 L484.3 298.4Z"/>
<path class="s" d="M484.3 298.4 L495.0 300.8 L488.8 299.3 L478.0 306.5Z"/>
<path class="s" d="M478.0 306.5 L488.8 299.3 L482.6 313.8 L471.8 315.2Z"/>
<path class="s" d="M471.8 315.2 L482.6 313.8 L476.3 319.3 L465.6 326.5Z"/>
<path class="s" d="M465.6 326.5 L476.3 319.3 L470.1 329.2 L459.3 335.3Z"/>
<path class="s" d="M459.3 335.3 L470.1 329.2 L463.9 343.7 L453.1 342.4Z"/>
<path class="s" d="M453.1 342.4 L463.9 343.7 L457.6 355.3 L446.9 347.5Z"/>
<path class="s" d="M446.9 347.5 L457.6 355.3 L451.4 365.1 L440.6 358.8Z"/>
<path class="s" d="M440.6 358.8 L451.4 365.1 L445.2 368.9 L434.4 368.8Z"/>
<path class="s" d="M434.4 368.8 L445.2 368.9 L439.0 372.7 L428.2 368.4Z"/>
<path class="s" d="M428.2 368.4 L439.0 372.7 L432.7 375.9 L422.0 370.7Z"/>
<path class="s" d="M422.0 370.7 L432.7 375.9 L426.5 377.0 L415.7 372.4Z"/>
<path class="s" d="M415.7 372.4 L426.5 377.0 L420.3 379.9 L409.5 372.1Z"/>
<path class="s" d="M409.5 372.1 L420.3 379.9 L414.0 378.6 L403.3 372.5Z"/>
<path class="s" d="M403.3 372.5 L414.0 378.6 L407.8 387.9 L397.0 369.3Z"/>
<path class="s" d="M397.0 369.3 L407.8 387.9 L401.6 382.6 L390.8 376.9Z"/>
<path class="s" d="M390.8 376.9 L401.6 382.6 L395.3 385.4 L384.6 375.5Z"/>
<path class="s" d="M384.6 375.5 L395.3 385.4 L389.1 392.0 L378.3 374.3Z"/>
<path class="s" d="M378.3 374.3 L389.1 392.0 L382.9 382.0 L372.1 379.3Z"/>
<path class="s" d="M372.1 379.3 L382.9 382.0 L376.6 392.4 L365.9 371.9Z"/>
<path class="s" d="M365.9 371.9 L376.6 392.4 L370.4 389.9 L359.6 369.7Z"/>
<path class="s" d="M359.6 369.7 L370.4 389.9 L364.2 385.7 L353.4 367.6Z"/>
<path class="t" d="M353.4 367.6 L364.2 385.7 L357.9 373.9 L347.2 360.0Z"/>
<path class="s" d="M347.2 360.0 L357.9 373.9 L351.7 374.2 L340.9 358.4Z"/>
<path class="s" d="M340.9 358.4 L351.7 374.2 L345.5 365.9 L334.7 358.2Z"/>
<path class="s" d="M334.7 358.2 L345.5 365.9 L339.3 365.1 L328.5 361.1Z"/>
<path class="s" d="M328.5 361.1 L339.3 365.1 L333.0 367.5 L322.3 363.1Z"/>
<path class="s" d="M322.3 363.1 L333.0 367.5 L326.8 375.0 L316.0 365.4Z"/>
<path class="s" d="M316.0 365.4 L326.8 375.0 L320.6 375.9 L309.8 372.1Z"/>
<path class="t" d="M309.8 372.1 L320.6 375.9 L314.3 371.5 L303.6 371.3Z"/>
<path class="s" d="M303.6 371.3 L314.3 371.5 L308.1 382.0 L297.3 377.6Z"/>
<path class="s" d="M297.3 377.6 L308.1 382.0 L301.9 382.6 L291.1 374.2Z"/>
<path class="s" d="M291.1 374.2 L301.9 382.6 L295.6 382.5 L284.9 375.0Z"/>
<path class="s" d="M284.9 375.0 L295.6 382.5 L289.4 381.6 L278.6 378.3Z"/>
<path class="s" d="M278.6 378.3 L289.4 381.6 L283.2 383.9 L272.4 378.1Z"/>
<path class="s" d="M272.4 378.1 L283.2 383.9 L276.9 382.2 L266.2 376.2Z"/>
<path class="s" d="M266.2 376.2 L276.9 382.2 L270.7 385.2 L259.9 376.1Z"/>
<path class="s" d="M513.7 283.7 L524.5 276.7 L518.3 286.9 L507.5 290.2Z"/>
<path class="s" d="M507.5 290.2 L518.3 286.9 L512.0 300.4 L501.3 295.3Z"/>
<path class="s" d="M501.3 295.3 L512.0 300.4 L505.8 296.8 L495.0 300.8Z"/>
<path class="t" d="M495.0 300.8 L505.8 296.8 L499.6 298.2 L488.8 299.3Z"/>
<path class="s" d="M488.8 299.3 L499.6 298.2 L493.3 312.6 L482.6 313.8Z"/>
<path class="s" d="M482.6 313.8 L493.3 312.6 L487.1 318.6 L476.3 319.3Z"/>
<path class="s" d="M476.3 319.3 L487.1 318.6 L480.9 325.7 L470.1 329.2Z"/>
<path class="s" d="M470.1 329.2 L480.9 325.7 L474.6 345.1 L463.9 343.7Z"/>
<path class="s" d="M463.9 343.7 L474.6 345.1 L468.4 356.9 L457.6 355.3Z"/>
<path class="s" d="M457.6 355.3 L468.4 356.9 L462.2 364.4 L451.4 365.1Z"/>
<path class="s" d="M451.4 365.1 L462.2 364.4 L456.0 371.1 L445.2 368.9Z"/>
<path class="s" d="M445.2 368.9 L456.0 371.1 L449.7 379.0 L439.0 372.7Z"/>
<path class="s" d="M439.0 372.7 L449.7 379.0 L443.5 382.1 L432.7 375.9Z"/>
<path class="s" d="M432.7 375.9 L443.5 382.1 L437.3 384.0 L426.5 377.0Z"/>
<path class="s" d="M426.5 377.0 L437.3 384.0 L431.0 389.6 L420.3 379.9Z"/>
<path class="s" d="M420.3 379.9 L431.0 389.6 L424.8 385.6 L414.0 378.6Z"/>
<path class="s" d="M414.0 378.6 L424.8 385.6 L418.6 383.1 L407.8 387.9Z"/>
<path class="t" d="M407.8 387.9 L418.6 383.1 L412.3 386.5 L401.6 382.6Z"/>
<path class="s" d="M401.6 382.6 L412.3 386.5 L406.1 388.7 L395.3 385.4Z"/>
<path class="s" d="M395.3 385.4 L406.1 388.7 L399.9 393.6 L389.1 392.0Z"/>
<path class="t" d="M389.1 392.0 L399.9 393.6 L393.6 393.2 L382.9 382.0Z"/>
<path class="s" d="M382.9 382.0 L393.6 393.2 L387.4 399.7 L376.6 392.4Z"/>
<path class="t" d="M376.6 392.4 L387.4 399.7 L381.2 394.7 L370.4 389.9Z"/>
<path class="s" d="M370.4 389.9 L381.2 394.7 L374.9 396.8 L364.2 385.7Z"/>
<path class="t" d="M364.2 385.7 L374.9 396.8 L368.7 388.7 L357.9 373.9Z"/>
<path class="s" d="M357.9 373.9 L368.7 388.7 L362.5 386.1 L351.7 374.2Z"/>
<path class="s" d="M351.7 374.2 L362.5 386.1 L356.3 385.0 L345.5 365.9Z"/>
<path class="s" d="M345.5 365.9 L356.3 385.0 L350.0 376.3 L339.3 365.1Z"/>
<path class="s" d="M339.3 365.1 L350.0 376.3 L343.8 371.9 L333.0 367.5Z"/>
<path class="s" d="M333.0 367.5 L343.8 371.9 L337.6 378.9 L326.8 375.0Z"/>
<path class="s" d="M326.8 375.0 L337.6 378.9 L331.3 379.9 L320.6 375.9Z"/>
<path class="s" d="M320.6 375.9 L331.3 379.9 L325.1 382.9 L314.3 371.5Z"/>
<path class="s" d="M314.3 371.5 L325.1 382.9 L318.9 387.4 L308.1 382.0Z"/>
<path class="t" d="M308.1 382.0 L318.9 387.4 L312.6 382.3 L301.9 382.6Z"/>
<path class="s" d="M301.9 382.6 L312.6 382.3 L306.4 383.2 L295.6 382.5Z"/>
<path class="s" d="M295.6 382.5 L306.4 383.2 L300.2 386.7 L289.4 381.6Z"/>
<path class="s" d="M289.4 381.6 L300.2 386.7 L293.9 389.5 L283.2 383.9Z"/>
<path class="s" d="M283.2 383.9 L293.9 389.5 L287.7 390.9 L276.9 382.2Z"/>
<path class="s" d="M276.9 382.2 L287.7 390.9 L281.5 389.1 L270.7 385.2Z"/>
<path class="s" d="M524.5 276.7 L535.3 278.0 L529.0 282.7 L518.3 286.9Z"/>
<path class="s" d="M518.3 286.9 L529.0 282.7 L522.8 289.8 L512.0 300.4Z"/>
<path class="t" d="M512.0 300.4 L522.8 289.8 L516.6 295.9 L505.8 296.8Z"/>
<path class="s" d="M505.8 296.8 L516.6 295.9 L510.3 304.5 L499.6 298.2Z"/>
<path class="s" d="M499.6 298.2 L510.3 304.5 L504.1 306.8 L493.3 312.6Z"/>
<path class="s" d="M493.3 312.6 L504.1 306.8 L497.9 315.4 L487.1 318.6Z"/>
<path class="s" d="M487.1 318.6 L497.9 315.4 L491.6 320.9 L480.9 325.7Z"/>
<path class="s" d="M480.9 325.7 L491.6 320.9 L485.4 337.0 L474.6 345.1Z"/>
<path class="s" d="M474.6 345.1 L485.4 337.0 L479.2 354.0 L468.4 356.9Z"/>
<path class="s" d="M468.4 356.9 L479.2 354.0 L473.0 357.4 L462.2 364.4Z"/>
<path class="s" d="M462.2 364.4 L473.0 357.4 L466.7 362.7 L456.0 371.1Z"/>
<path class="s" d="M456.0 371.1 L466.7 362.7 L460.5 375.2 L449.7 379.0Z"/>
<path class="s" d="M449.7 379.0 L460.5 375.2 L454.3 382.7 L443.5 382.1Z"/>
<path class="s" d="M443.5 382.1 L454.3 382.7 L448.0 391.8 L437.3 384.0Z"/>
<path class="s" d="M437.3 384.0 L448.0 391.8 L441.8 398.7 L431.0 389.6Z"/>
<path class="s" d="M431.0 389.6 L441.8 398.7 L435.6 399.4 L424.8 385.6Z"/>
<path class="s" d="M424.8 385.6 L435.6 399.4 L429.3 399.0 L418.6 383.1Z"/>
<path class="s" d="M418.6 383.1 L429.3 399.0 L423.1 397.1 L412.3 386.5Z"/>
<path class="s" d="M412.3 386.5 L423.1 397.1 L416.9 397.3 L406.1 388.7Z"/>
<path class="s" d="M406.1 388.7 L416.9 397.3 L410.6 397.7 L399.9 393.6Z"/>
<path class="s" d="M399.9 393.6 L410.6 397.7 L404.4 402.6 L393.6 393.2Z"/>
<path class="s" d="M393.6 393.2 L404.4 402.6 L398.2 401.2 L387.4 399.7Z"/>
<path class="s" d="M387.4 399.7 L398.2 401.2 L391.9 406.0 L381.2 394.7Z"/>
<path class="s" d="M381.2 394.7 L391.9 406.0 L385.7 407.3 L374.9 396.8Z"/>
<path class="s" d="M374.9 396.8 L385.7 407.3 L379.5 402.9 L368.7 388.7Z"/>
<path class="s" d="M368.7 388.7 L379.5 402.9 L373.3 404.0 L362.5 386.1Z"/>
<path class="s" d="M362.5 386.1 L373.3 404.0 L367.0 404.9 L356.3 385.0Z"/>
<path class="s" d="M356.3 385.0 L367.0 404.9 L360.8 394.5 L350.0 376.3Z"/>
<path class="s" d="M350.0 376.3 L360.8 394.5 L354.6 385.5 L343.8 371.9Z"/>
<path class="s" d="M343.8 371.9 L354.6 385.5 L348.3 392.7 L337.6 378.9Z"/>
<path class="s" d="M337.6 378.9 L348.3 392.7 L342.1 383.5 L331.3 379.9Z"/>
<path class="s" d="M331.3 379.9 L342.1 383.5 L335.9 385.7 L325.1 382.9Z"/>
<path class="s" d="M325.1 382.9 L335.9 385.7 L329.6 391.3 L318.9 387.4Z"/>
<path class="s" d="M318.9 387.4 L329.6 391.3 L323.4 394.0 L312.6 382.3Z"/>
<path class="s" d="M312.6 382.3 L323.4 394.0 L317.2 393.3 L306.4 383.2Z"/>
<path class="s" d="M306.4 383.2 L317.2 393.3 L310.9 395.5 L300.2 386.7Z"/>
<path class="s" d="M300.2 386.7 L310.9 395.5 L304.7 391.8 L293.9 389.5Z"/>
<path class="s" d="M293.9 389.5 L304.7 391.8 L298.5 395.7 L287.7 390.9Z"/>
<path class="s" d="M287.7 390.9 L298.5 395.7 L292.2 402.2 L281.5 389.1Z"/>
<path class="s" d="M535.3 278.0 L546.0 274.3 L539.8 280.1 L529.0 282.7Z"/>
<path class="s" d="M529.0 282.7 L539.8 280.1 L533.6 283.8 L522.8 289.8Z"/>
<path class="s" d="M522.8 289.8 L533.6 283.8 L527.3 294.4 L516.6 295.9Z"/>
<path class="s" d="M516.6 295.9 L527.3 294.4 L521.1 299.4 L510.3 304.5Z"/>
<path class="t" d="M510.3 304.5 L521.1 299.4 L514.9 298.3 L504.1 306.8Z"/>
<path class="s" d="M504.1 306.8 L514.9 298.3 L508.6 310.8 L497.9 315.4Z"/>
<path class="s" d="M497.9 315.4 L508.6 310.8 L502.4 323.0 L491.6 320.9Z"/>
<path class="s" d="M491.6 320.9 L502.4 323.0 L496.2 338.0 L485.4 337.0Z"/>
<path class="s" d="M485.4 337.0 L496.2 338.0 L490.0 346.7 L479.2 354.0Z"/>
<path class="t" d="M479.2 354.0 L490.0 346.7 L483.7 349.3 L473.0 357.4Z"/>
<path class="s" d="M473.0 357.4 L483.7 349.3 L477.5 370.1 L466.7 362.7Z"/>
<path class="s" d="M466.7 362.7 L477.5 370.1 L471.3 375.7 L460.5 375.2Z"/>
<path class="s" d="M460.5 375.2 L471.3 375.7 L465.0 389.1 L454.3 382.7Z"/>
<path class="s" d="M454.3 382.7 L465.0 389.1 L458.8 392.8 L448.0 391.8Z"/>
<path class="s" d="M448.0 391.8 L458.8 392.8 L452.6 397.3 L441.8 398.7Z"/>
<path class="s" d="M441.8 398.7 L452.6 397.3 L446.3 401.6 L435.6 399.4Z"/>
<path class="t" d="M435.6 399.4 L446.3 401.6 L440.1 399.9 L429.3 399.0Z"/>
<path class="s" d="M429.3 399.0 L440.1 399.9 L433.9 401.2 L423.1 397.1Z"/>
<path class="s" d="M423.1 397.1 L433.9 401.2 L427.6 403.3 L416.9 397.3Z"/>
<path class="s" d="M416.9 397.3 L427.6 403.3 L421.4 401.0 L410.6 397.7Z"/>
<path class="s" d="M410.6 397.7 L421.4 401.0 L415.2 405.3 L404.4 402.6Z"/>
<path class="s" d="M404.4 402.6 L415.2 405.3 L408.9 410.2 L398.2 401.2Z"/>
<path class="s" d="M398.2 401.2 L408.9 410.2 L402.7 413.6 L391.9 406.0Z"/>
<path class="s" d="M391.9 406.0 L402.7 413.6 L396.5 415.7 L385.7 407.3Z"/>
<path class="s" d="M385.7 407.3 L396.5 415.7 L390.3 411.8 L379.5 402.9Z"/>
<path class="s" d="M379.5 402.9 L390.3 411.8 L384.0 414.2 L373.3 404.0Z"/>
<path class="t" d="M373.3 404.0 L384.0 414.2 L377.8 402.2 L367.0 404.9Z"/>
<path class="t" d="M367.0 404.9 L377.8 402.2 L371.6 400.3 L360.8 394.5Z"/>
<path class="s" d="M360.8 394.5 L371.6 400.3 L365.3 401.1 L354.6 385.5Z"/>
<path class="s" d="M354.6 385.5 L365.3 401.1 L359.1 395.8 L348.3 392.7Z"/>
<path class="t" d="M348.3 392.7 L359.1 395.8 L352.9 386.5 L342.1 383.5Z"/>
<path class="s" d="M342.1 383.5 L352.9 386.5 L346.6 395.6 L335.9 385.7Z"/>
<path class="s" d="M335.9 385.7 L346.6 395.6 L340.4 392.6 L329.6 391.3Z"/>
<path class="t" d="M329.6 391.3 L340.4 392.6 L334.2 391.0 L323.4 394.0Z"/>
<path class="s" d="M323.4 394.0 L334.2 391.0 L327.9 398.9 L317.2 393.3Z"/>
<path class="s" d="M317.2 393.3 L327.9 398.9 L321.7 400.2 L310.9 395.5Z"/>
<path class="s" d="M310.9 395.5 L321.7 400.2 L315.5 401.9 L304.7 391.8Z"/>
<path class="s" d="M304.7 391.8 L315.5 401.9 L309.2 401.0 L298.5 395.7Z"/>
<path class="s" d="M298.5 395.7 L309.2 401.0 L303.0 404.6 L292.2 402.2Z"/>
<path class="s" d="M546.0 274.3 L556.8 263.7 L550.6 277.5 L539.8 280.1Z"/>
<path class="s" d="M539.8 280.1 L550.6 277.5 L544.3 286.3 L533.6 283.8Z"/>
<path class="s" d="M533.6 283.8 L544.3 286.3 L538.1 288.7 L527.3 294.4Z"/>
<path class="s" d="M527.3 294.4 L538.1 288.7 L531.9 298.8 L521.1 299.4Z"/>
<path class="s" d="M521.1 299.4 L531.9 298.8 L525.7 304.6 L514.9 298.3Z"/>
<path class="s" d="M514.9 298.3 L525.7 304.6 L519.4 311.7 L508.6 310.8Z"/>
<path class="s" d="M508.6 310.8 L519.4 311.7 L513.2 322.6 L502.4 323.0Z"/>
<path class="s" d="M502.4 323.0 L513.2 322.6 L507.0 331.4 L496.2 338.0Z"/>
<path class="s" d="M496.2 338.0 L507.0 331.4 L500.7 338.5 L490.0 346.7Z"/>
<path class="s" d="M490.0 346.7 L500.7 338.5 L494.5 351.7 L483.7 349.3Z"/>
<path class="s" d="M483.7 349.3 L494.5 351.7 L488.3 364.6 L477.5 370.1Z"/>
<path class="s" d="M477.5 370.1 L488.3 364.6 L482.0 376.4 L471.3 375.7Z"/>
<path class="s" d="M471.3 375.7 L482.0 376.4 L475.8 384.8 L465.0 389.1Z"/>
<path class="s" d="M465.0 389.1 L475.8 384.8 L469.6 393.9 L458.8 392.8Z"/>
<path class="s" d="M458.8 392.8 L469.6 393.9 L463.3 402.7 L452.6 397.3Z"/>
<path class="s" d="M452.6 397.3 L463.3 402.7 L457.1 412.1 L446.3 401.6Z"/>
<path class="s" d="M446.3 401.6 L457.1 412.1 L450.9 410.4 L440.1 399.9Z"/>
<path class="s" d="M440.1 399.9 L450.9 410.4 L444.6 407.3 L433.9 401.2Z"/>
<path class="s" d="M433.9 401.2 L444.6 407.3 L438.4 417.9 L427.6 403.3Z"/>
<path class="s" d="M427.6 403.3 L438.4 417.9 L432.2 413.7 L421.4 401.0Z"/>
<path class="s" d="M421.4 401.0 L432.2 413.7 L425.9 420.7 L415.2 405.3Z"/>
<path class="s" d="M415.2 405.3 L425.9 420.7 L419.7 415.5 L408.9 410.2Z"/>
<path class="s" d="M408.9 410.2 L419.7 415.5 L413.5 420.0 L402.7 413.6Z"/>
<path class="s" d="M402.7 413.6 L413.5 420.0 L407.3 426.3 L396.5 415.7Z"/>
<path class="s" d="M396.5 415.7 L407.3 426.3 L401.0 421.9 L390.3 411.8Z"/>
<path class="s" d="M390.3 411.8 L401.0 421.9 L394.8 417.0 L384.0 414.2Z"/>
<path class="s" d="M384.0 414.2 L394.8 417.0 L388.6 422.1 L377.8 402.2Z"/>
<path class="s" d="M377.8 402.2 L388.6 422.1 L382.3 417.1 L371.6 400.3Z"/>
<path class="s" d="M371.6 400.3 L382.3 417.1 L376.1 416.3 L365.3 401.1Z"/>
<path class="s" d="M365.3 401.1 L376.1 416.3 L369.9 417.7 L359.1 395.8Z"/>
<path class="s" d="M359.1 395.8 L369.9 417.7 L363.6 404.5 L352.9 386.5Z"/>
<path class="s" d="M352.9 386.5 L363.6 404.5 L357.4 402.7 L346.6 395.6Z"/>
<path class="s" d="M346.6 395.6 L357.4 402.7 L351.2 404.5 L340.4 392.6Z"/>
<path class="s" d="M340.4 392.6 L351.2 404.5 L344.9 398.1 L334.2 391.0Z"/>
<path class="s" d="M334.2 391.0 L344.9 398.1 L338.7 402.0 L327.9 398.9Z"/>
<path class="s" d="M327.9 398.9 L338.7 402.0 L332.5 406.9 L321.7 400.2Z"/>
<path class="s" d="M321.7 400.2 L332.5 406.9 L326.2 405.4 L315.5 401.9Z"/>
<path class="s" d="M315.5 401.9 L326.2 405.4 L320.0 412.8 L309.2 401.0Z"/>
<path class="s" d="M309.2 401.0 L320.0 412.8 L313.8 410.5 L303.0 404.6Z"/>
<path class="s" d="M556.8 263.7 L567.6 262.0 L561.3 273.4 L550.6 277.5Z"/>
<path class="s" d="M550.6 277.5 L561.3 273.4 L555.1 287.0 L544.3 286.3Z"/>
<path class="t" d="M544.3 286.3 L555.1 287.0 L548.9 284.4 L538.1 288.7Z"/>
<path class="s" d="M538.1 288.7 L548.9 284.4 L542.7 292.2 L531.9 298.8Z"/>
<path class="t" d="M531.9 298.8 L542.7 292.2 L536.4 292.1 L525.7 304.6Z"/>
<path class="s" d="M525.7 304.6 L536.4 292.1 L530.2 304.8 L519.4 311.7Z"/>
<path class="s" d="M519.4 311.7 L530.2 304.8 L524.0 314.9 L513.2 322.6Z"/>
<path class="s" d="M513.2 322.6 L524.0 314.9 L517.7 323.1 L507.0 331.4Z"/>
<path class="s" d="M507.0 331.4 L517.7 323.1 L511.5 345.5 L500.7 338.5Z"/>
<path class="s" d="M500.7 338.5 L511.5 345.5 L505.3 351.4 L494.5 351.7Z"/>
<path class="s" d="M494.5 351.7 L505.3 351.4 L499.0 356.0 L488.3 364.6Z"/>
<path class="s" d="M488.3 364.6 L499.0 356.0 L492.8 368.5 L482.0 376.4Z"/>
<path class="s" d="M482.0 376.4 L492.8 368.5 L486.6 377.6 L475.8 384.8Z"/>
<path class="s" d="M475.8 384.8 L486.6 377.6 L480.3 391.6 L469.6 393.9Z"/>
<path class="s" d="M469.6 393.9 L480.3 391.6 L474.1 398.8 L463.3 402.7Z"/>
<path class="s" d="M463.3 402.7 L474.1 398.8 L467.9 411.2 L457.1 412.1Z"/>
<path class="s" d="M457.1 412.1 L467.9 411.2 L461.6 419.9 L450.9 410.4Z"/>
<path class="s" d="M450.9 410.4 L461.6 419.9 L455.4 422.0 L444.6 407.3Z"/>
<path class="s" d="M444.6 407.3 L455.4 422.0 L449.2 420.0 L438.4 417.9Z"/>
<path class="s" d="M438.4 417.9 L449.2 420.0 L443.0 421.4 L432.2 413.7Z"/>
<path class="s" d="M432.2 413.7 L443.0 421.4 L436.7 423.1 L425.9 420.7Z"/>
<path class="s" d="M425.9 420.7 L436.7 423.1 L430.5 433.2 L419.7 415.5Z"/>
<path class="s" d="M419.7 415.5 L430.5 433.2 L424.3 430.3 L413.5 420.0Z"/>
<path class="s" d="M413.5 420.0 L424.3 430.3 L418.0 427.8 L407.3 426.3Z"/>
<path class="t" d="M407.3 426.3 L418.0 427.8 L411.8 427.8 L401.0 421.9Z"/>
<path class="s" d="M401.0 421.9 L411.8 427.8 L405.6 432.8 L394.8 417.0Z"/>
<path class="s" d="M394.8 417.0 L405.6 432.8 L399.3 433.9 L388.6 422.1Z"/>
<path class="s" d="M388.6 422.1 L399.3 433.9 L393.1 438.3 L382.3 417.1Z"/>
<path class="s" d="M382.3 417.1 L393.1 438.3 L386.9 424.7 L376.1 416.3Z"/>
<path class="s" d="M376.1 416.3 L386.9 424.7 L380.6 429.6 L369.9 417.7Z"/>
<path class="t" d="M369.9 417.7 L380.6 429.6 L374.4 417.1 L363.6 404.5Z"/>
<path class="s" d="M363.6 404.5 L374.4 417.1 L368.2 412.2 L357.4 402.7Z"/>
<path class="s" d="M357.4 402.7 L368.2 412.2 L361.9 410.8 L351.2 404.5Z"/>
<path class="s" d="M351.2 404.5 L361.9 410.8 L355.7 411.9 L344.9 398.1Z"/>
<path class="s" d="M344.9 398.1 L355.7 411.9 L349.5 409.0 L338.7 402.0Z"/>
<path class="s" d="M338.7 402.0 L349.5 409.0 L343.2 415.3 L332.5 406.9Z"/>
<path class="s" d="M332.5 406.9 L343.2 415.3 L337.0 413.7 L326.2 405.4Z"/>
<path class="s" d="M326.2 405.4 L337.0 413.7 L330.8 417.0 L320.0 412.8Z"/>
<path class="s" d="M320.0 412.8 L330.8 417.0 L324.6 418.1 L313.8 410.5Z"/>
<path class="s" d="M567.6 262.0 L578.3 254.7 L572.1 264.4 L561.3 273.4Z"/>
<path class="s" d="M561.3 273.4 L572.1 264.4 L565.9 282.4 L555.1 287.0Z"/>
<path class="t" d="M555.1 287.0 L565.9 282.4 L559.7 283.0 L548.9 284.4Z"/>
<path class="s" d="M548.9 284.4 L559.7 283.0 L553.4 291.7 L542.7 292.2Z"/>
<path class="s" d="M542.7 292.2 L553.4 291.7 L547.2 294.8 L536.4 292.1Z"/>
<path class="s" d="M536.4 292.1 L547.2 294.8 L541.0 299.9 L530.2 304.8Z"/>
<path class="s" d="M530.2 304.8 L541.0 299.9 L534.7 312.1 L524.0 314.9Z"/>
<path class="s" d="M524.0 314.9 L534.7 312.1 L528.5 318.4 L517.7 323.1Z"/>
<path class="s" d="M517.7 323.1 L528.5 318.4 L522.3 330.5 L511.5 345.5Z"/>
<path class="s" d="M511.5 345.5 L522.3 330.5 L516.0 340.2 L505.3 351.4Z"/>
<path class="s" d="M505.3 351.4 L516.0 340.2 L509.8 354.9 L499.0 356.0Z"/>
<path class="s" d="M499.0 356.0 L509.8 354.9 L503.6 365.0 L492.8 368.5Z"/>
<path class="s" d="M492.8 368.5 L503.6 365.0 L497.3 378.4 L486.6 377.6Z"/>
<path class="s" d="M486.6 377.6 L497.3 378.4 L491.1 391.0 L480.3 391.6Z"/>
<path class="s" d="M480.3 391.6 L491.1 391.0 L484.9 397.1 L474.1 398.8Z"/>
<path class="s" d="M474.1 398.8 L484.9 397.1 L478.6 407.5 L467.9 411.2Z"/>
<path class="s" d="M467.9 411.2 L478.6 407.5 L472.4 420.2 L461.6 419.9Z"/>
<path class="s" d="M461.6 419.9 L472.4 420.2 L466.2 422.1 L455.4 422.0Z"/>
<path class="s" d="M455.4 422.0 L466.2 422.1 L460.0 430.3 L449.2 420.0Z"/>
<path class="s" d="M449.2 420.0 L460.0 430.3 L453.7 427.1 L443.0 421.4Z"/>
<path class="s" d="M443.0 421.4 L453.7 427.1 L447.5 429.9 L436.7 423.1Z"/>
<path class="s" d="M436.7 423.1 L447.5 429.9 L441.3 431.1 L430.5 433.2Z"/>
<path class="s" d="M430.5 433.2 L441.3 431.1 L435.0 434.4 L424.3 430.3Z"/>
<path class="t" d="M424.3 430.3 L435.0 434.4 L428.8 430.1 L418.0 427.8Z"/>
<path class="s" d="M418.0 427.8 L428.8 430.1 L422.6 433.0 L411.8 427.8Z"/>
<path class="s" d="M411.8 427.8 L422.6 433.0 L416.3 433.6 L405.6 432.8Z"/>
<path class="s" d="M405.6 432.8 L416.3 433.6 L410.1 439.2 L399.3 433.9Z"/>
<path class="s" d="M399.3 433.9 L410.1 439.2 L403.9 444.1 L393.1 438.3Z"/>
<path class="t" d="M393.1 438.3 L403.9 444.1 L397.6 441.7 L386.9 424.7Z"/>
<path class="s" d="M386.9 424.7 L397.6 441.7 L391.4 444.2 L380.6 429.6Z"/>
<path class="t" d="M380.6 429.6 L391.4 444.2 L385.2 435.3 L374.4 417.1Z"/>
<path class="s" d="M374.4 417.1 L385.2 435.3 L378.9 429.1 L368.2 412.2Z"/>
<path class="s" d="M368.2 412.2 L378.9 429.1 L372.7 426.6 L361.9 410.8Z"/>
<path class="s" d="M361.9 410.8 L372.7 426.6 L366.5 424.3 L355.7 411.9Z"/>
<path class="s" d="M355.7 411.9 L366.5 424.3 L360.3 421.3 L349.5 409.0Z"/>
<path class="s" d="M349.5 409.0 L360.3 421.3 L354.0 418.6 L343.2 415.3Z"/>
<path class="s" d="M343.2 415.3 L354.0 418.6 L347.8 425.2 L337.0 413.7Z"/>
<path class="s" d="M337.0 413.7 L347.8 425.2 L341.6 423.1 L330.8 417.0Z"/>
<path class="s" d="M330.8 417.0 L341.6 423.1 L335.3 425.6 L324.6 418.1Z"/>
<path class="s" d="M578.3 254.7 L589.1 257.6 L582.9 267.5 L572.1 264.4Z"/>
<path class="s" d="M572.1 264.4 L582.9 267.5 L576.7 276.5 L565.9 282.4Z"/>
<path class="s" d="M565.9 282.4 L576.7 276.5 L570.4 286.2 L559.7 283.0Z"/>
<path class="s" d="M559.7 283.0 L570.4 286.2 L564.2 288.9 L553.4 291.7Z"/>
<path class="t" d="M553.4 291.7 L564.2 288.9 L558.0 286.0 L547.2 294.8Z"/>
<path class="s" d="M547.2 294.8 L558.0 286.0 L551.7 293.4 L541.0 299.9Z"/>
<path class="s" d="M541.0 299.9 L551.7 293.4 L545.5 300.2 L534.7 312.1Z"/>
<path class="s" d="M534.7 312.1 L545.5 300.2 L539.3 320.0 L528.5 318.4Z"/>
<path class="s" d="M528.5 318.4 L539.3 320.0 L533.0 334.3 L522.3 330.5Z"/>
<path class="s" d="M522.3 330.5 L533.0 334.3 L526.8 336.9 L516.0 340.2Z"/>
<path class="s" d="M516.0 340.2 L526.8 336.9 L520.6 347.6 L509.8 354.9Z"/>
<path class="s" d="M509.8 354.9 L520.6 347.6 L514.3 363.5 L503.6 365.0Z"/>
<path class="s" d="M503.6 365.0 L514.3 363.5 L508.1 376.7 L497.3 378.4Z"/>
<path class="s" d="M497.3 378.4 L508.1 376.7 L501.9 383.7 L491.1 391.0Z"/>
<path class="s" d="M491.1 391.0 L501.9 383.7 L495.6 400.2 L484.9 397.1Z"/>
<path class="s" d="M484.9 397.1 L495.6 400.2 L489.4 407.1 L478.6 407.5Z"/>
<path class="s" d="M478.6 407.5 L489.4 407.1 L483.2 422.5 L472.4 420.2Z"/>
<path class="s" d="M472.4 420.2 L483.2 422.5 L477.0 425.6 L466.2 422.1Z"/>
<path class="s" d="M466.2 422.1 L477.0 425.6 L470.7 438.1 L460.0 430.3Z"/>
<path class="s" d="M460.0 430.3 L470.7 438.1 L464.5 434.0 L453.7 427.1Z"/>
<path class="s" d="M453.7 427.1 L464.5 434.0 L458.3 430.3 L447.5 429.9Z"/>
<path class="s" d="M447.5 429.9 L458.3 430.3 L452.0 437.1 L441.3 431.1Z"/>
<path class="s" d="M441.3 431.1 L452.0 437.1 L445.8 435.7 L435.0 434.4Z"/>
<path class="s" d="M435.0 434.4 L445.8 435.7 L439.6 441.5 L428.8 430.1Z"/>
<path class="s" d="M428.8 430.1 L439.6 441.5 L433.3 444.0 L422.6 433.0Z"/>
<path class="s" d="M422.6 433.0 L433.3 444.0 L427.1 447.6 L416.3 433.6Z"/>
<path class="s" d="M416.3 433.6 L427.1 447.6 L420.9 442.6 L410.1 439.2Z"/>
<path class="s" d="M410.1 439.2 L420.9 442.6 L414.6 448.3 L403.9 444.1Z"/>
<path class="t" d="M403.9 444.1 L414.6 448.3 L408.4 444.5 L397.6 441.7Z"/>
<path class="s" d="M397.6 441.7 L408.4 444.5 L402.2 453.1 L391.4 444.2Z"/>
<path class="s" d="M391.4 444.2 L402.2 453.1 L395.9 450.7 L385.2 435.3Z"/>
<path class="s" d="M385.2 435.3 L395.9 450.7 L389.7 446.6 L378.9 429.1Z"/>
<path class="s" d="M378.9 429.1 L389.7 446.6 L383.5 438.8 L372.7 426.6Z"/>
<path class="s" d="M372.7 426.6 L383.5 438.8 L377.3 433.0 L366.5 424.3Z"/>
<path class="s" d="M366.5 424.3 L377.3 433.0 L371.0 435.3 L360.3 421.3Z"/>
<path class="s" d="M360.3 421.3 L371.0 435.3 L364.8 433.5 L354.0 418.6Z"/>
<path class="s" d="M354.0 418.6 L364.8 433.5 L358.6 434.3 L347.8 425.2Z"/>
<path class="t" d="M347.8 425.2 L358.6 434.3 L352.3 426.0 L341.6 423.1Z"/>
<path class="s" d="M341.6 423.1 L352.3 426.0 L346.1 432.8 L335.3 425.6Z"/>
<path class="s" d="M589.1 257.6 L599.9 256.4 L593.7 265.3 L582.9 267.5Z"/>
<path class="s" d="M582.9 267.5 L593.7 265.3 L587.4 280.4 L576.7 276.5Z"/>
<path class="s" d="M576.7 276.5 L587.4 280.4 L581.2 286.3 L570.4 286.2Z"/>
<path class="t" d="M570.4 286.2 L581.2 286.3 L575.0 281.5 L564.2 288.9Z"/>
<path class="t" d="M564.2 288.9 L575.0 281.5 L568.7 284.1 L558.0 286.0Z"/>
<path class="s" d="M558.0 286.0 L568.7 284.1 L562.5 289.9 L551.7 293.4Z"/>
<path class="s" d="M551.7 293.4 L562.5 289.9 L556.3 304.4 L545.5 300.2Z"/>
<path class="s" d="M545.5 300.2 L556.3 304.4 L550.0 311.5 L539.3 320.0Z"/>
<path class="s" d="M539.3 320.0 L550.0 311.5 L543.8 319.9 L533.0 334.3Z"/>
<path class="s" d="M533.0 334.3 L543.8 319.9 L537.6 339.0 L526.8 336.9Z"/>
<path class="s" d="M526.8 336.9 L537.6 339.0 L531.3 345.8 L520.6 347.6Z"/>
<path class="s" d="M520.6 347.6 L531.3 345.8 L525.1 357.9 L514.3 363.5Z"/>
<path class="s" d="M514.3 363.5 L525.1 357.9 L518.9 366.6 L508.1 376.7Z"/>
<path class="s" d="M508.1 376.7 L518.9 366.6 L512.6 378.9 L501.9 383.7Z"/>
<path class="s" d="M501.9 383.7 L512.6 378.9 L506.4 391.3 L495.6 400.2Z"/>
<path class="s" d="M495.6 400.2 L506.4 391.3 L500.2 405.2 L489.4 407.1Z"/>
<path class="s" d="M489.4 407.1 L500.2 405.2 L494.0 413.7 L483.2 422.5Z"/>
<path class="s" d="M483.2 422.5 L494.0 413.7 L487.7 425.7 L477.0 425.6Z"/>
<path class="s" d="M477.0 425.6 L487.7 425.7 L481.5 433.4 L470.7 438.1Z"/>
<path class="s" d="M470.7 438.1 L481.5 433.4 L475.3 440.1 L464.5 434.0Z"/>
<path class="s" d="M464.5 434.0 L475.3 440.1 L469.0 439.5 L458.3 430.3Z"/>
<path class="s" d="M458.3 430.3 L469.0 439.5 L462.8 444.7 L452.0 437.1Z"/>
<path class="s" d="M452.0 437.1 L462.8 444.7 L456.6 445.6 L445.8 435.7Z"/>
<path class="s" d="M445.8 435.7 L456.6 445.6 L450.3 443.1 L439.6 441.5Z"/>
<path class="s" d="M439.6 441.5 L450.3 443.1 L444.1 448.7 L433.3 444.0Z"/>
<path class="s" d="M433.3 444.0 L444.1 448.7 L437.9 450.6 L427.1 447.6Z"/>
<path class="t" d="M427.1 447.6 L437.9 450.6 L431.6 449.2 L420.9 442.6Z"/>
<path class="s" d="M420.9 442.6 L431.6 449.2 L425.4 453.3 L414.6 448.3Z"/>
<path class="s" d="M414.6 448.3 L425.4 453.3 L419.2 456.4 L408.4 444.5Z"/>
<path class="s" d="M408.4 444.5 L419.2 456.4 L412.9 457.5 L402.2 453.1Z"/>
<path class="s" d="M402.2 453.1 L412.9 457.5 L406.7 462.3 L395.9 450.7Z"/>
<path class="s" d="M395.9 450.7 L406.7 462.3 L400.5 457.8 L389.7 446.6Z"/>
<path class="s" d="M389.7 446.6 L400.5 457.8 L394.3 452.9 L383.5 438.8Z"/>
<path class="s" d="M383.5 438.8 L394.3 452.9 L388.0 451.4 L377.3 433.0Z"/>
<path class="s" d="M377.3 433.0 L388.0 451.4 L381.8 453.4 L371.0 435.3Z"/>
<path class="s" d="M371.0 435.3 L381.8 453.4 L375.6 443.2 L364.8 433.5Z"/>
<path class="s" d="M364.8 433.5 L375.6 443.2 L369.3 442.6 L358.6 434.3Z"/>
<path class="s" d="M358.6 434.3 L369.3 442.6 L363.1 439.7 L352.3 426.0Z"/>
<path class="s" d="M352.3 426.0 L363.1 439.7 L356.9 438.5 L346.1 432.8Z"/>
<path class="s" d="M599.9 256.4 L610.7 256.6 L604.4 260.1 L593.7 265.3Z"/>
<path class="s" d="M593.7 265.3 L604.4 260.1 L598.2 271.8 L587.4 280.4Z"/>
<path class="t" d="M587.4 280.4 L598.2 271.8 L592.0 275.7 L581.2 286.3Z"/>
<path class="t" d="M581.2 286.3 L592.0 275.7 L585.7 280.4 L575.0 281.5Z"/>
<path class="t" d="M575.0 281.5 L585.7 280.4 L579.5 278.7 L568.7 284.1Z"/>
<path class="s" d="M568.7 284.1 L579.5 278.7 L573.3 283.6 L562.5 289.9Z"/>
<path class="s" d="M562.5 289.9 L573.3 283.6 L567.0 302.5 L556.3 304.4Z"/>
<path class="s" d="M556.3 304.4 L567.0 302.5 L560.8 309.6 L550.0 311.5Z"/>
<path class="s" d="M550.0 311.5 L560.8 309.6 L554.6 327.6 L543.8 319.9Z"/>
<path class="s" d="M543.8 319.9 L554.6 327.6 L548.3 332.6 L537.6 339.0Z"/>
<path class="s" d="M537.6 339.0 L548.3 332.6 L542.1 339.3 L531.3 345.8Z"/>
<path class="s" d="M531.3 345.8 L542.1 339.3 L535.9 349.1 L525.1 357.9Z"/>
<path class="s" d="M525.1 357.9 L535.9 349.1 L529.6 358.8 L518.9 366.6Z"/>
<path class="s" d="M518.9 366.6 L529.6 358.8 L523.4 374.8 L512.6 378.9Z"/>
<path class="s" d="M512.6 378.9 L523.4 374.8 L517.2 385.0 L506.4 391.3Z"/>
<path class="s" d="M506.4 391.3 L517.2 385.0 L511.0 397.7 L500.2 405.2Z"/>
<path class="s" d="M500.2 405.2 L511.0 397.7 L504.7 406.0 L494.0 413.7Z"/>
<path class="s" d="M494.0 413.7 L504.7 406.0 L498.5 416.3 L487.7 425.7Z"/>
<path class="s" d="M487.7 425.7 L498.5 416.3 L492.3 432.6 L481.5 433.4Z"/>
<path class="t" d="M481.5 433.4 L492.3 432.6 L486.0 429.7 L475.3 440.1Z"/>
<path class="s" d="M475.3 440.1 L486.0 429.7 L479.8 447.9 L469.0 439.5Z"/>
<path class="s" d="M469.0 439.5 L479.8 447.9 L473.6 450.5 L462.8 444.7Z"/>
<path class="s" d="M462.8 444.7 L473.6 450.5 L467.3 449.3 L456.6 445.6Z"/>
<path class="s" d="M456.6 445.6 L467.3 449.3 L461.1 450.5 L450.3 443.1Z"/>
<path class="s" d="M450.3 443.1 L461.1 450.5 L454.9 452.9 L444.1 448.7Z"/>
<path class="s" d="M444.1 448.7 L454.9 452.9 L448.6 458.2 L437.9 450.6Z"/>
<path class="s" d="M437.9 450.6 L448.6 458.2 L442.4 453.8 L431.6 449.2Z"/>
<path class="s" d="M431.6 449.2 L442.4 453.8 L436.2 459.9 L425.4 453.3Z"/>
<path class="s" d="M425.4 453.3 L436.2 459.9 L429.9 457.9 L419.2 456.4Z"/>
<path class="s" d="M419.2 456.4 L429.9 457.9 L423.7 460.9 L412.9 457.5Z"/>
<path class="s" d="M412.9 457.5 L423.7 460.9 L417.5 470.7 L406.7 462.3Z"/>
<path class="s" d="M406.7 462.3 L417.5 470.7 L411.3 470.3 L400.5 457.8Z"/>
<path class="s" d="M400.5 457.8 L411.3 470.3 L405.0 470.9 L394.3 452.9Z"/>
<path class="s" d="M394.3 452.9 L405.0 470.9 L398.8 465.9 L388.0 451.4Z"/>
<path class="s" d="M388.0 451.4 L398.8 465.9 L392.6 462.9 L381.8 453.4Z"/>
<path class="t" d="M381.8 453.4 L392.6 462.9 L386.3 458.4 L375.6 443.2Z"/>
<path class="s" d="M375.6 443.2 L386.3 458.4 L380.1 456.9 L369.3 442.6Z"/>
<path class="s" d="M369.3 442.6 L380.1 456.9 L373.9 448.7 L363.1 439.7Z"/>
<path class="s" d="M363.1 439.7 L373.9 448.7 L367.6 444.6 L356.9 438.5Z"/>
<path class="s" d="M610.7 256.6 L621.4 259.0 L615.2 263.6 L604.4 260.1Z"/>
<path class="s" d="M604.4 260.1 L615.2 263.6 L609.0 270.1 L598.2 271.8Z"/>
<path class="s" d="M598.2 271.8 L609.0 270.1 L602.7 275.9 L592.0 275.7Z"/>
<path class="s" d="M592.0 275.7 L602.7 275.9 L596.5 280.5 L585.7 280.4Z"/>
<path class="t" d="M585.7 280.4 L596.5 280.5 L590.3 275.5 L579.5 278.7Z"/>
<path class="s" d="M579.5 278.7 L590.3 275.5 L584.0 280.9 L573.3 283.6Z"/>
<path class="s" d="M573.3 283.6 L584.0 280.9 L577.8 293.0 L567.0 302.5Z"/>
<path class="s" d="M567.0 302.5 L577.8 293.0 L571.6 308.9 L560.8 309.6Z"/>
<path class="s" d="M560.8 309.6 L571.6 308.9 L565.3 311.5 L554.6 327.6Z"/>
<path class="s" d="M554.6 327.6 L565.3 311.5 L559.1 326.4 L548.3 332.6Z"/>
<path class="s" d="M548.3 332.6 L559.1 326.4 L552.9 338.8 L542.1 339.3Z"/>
<path class="s" d="M542.1 339.3 L552.9 338.8 L546.6 348.2 L535.9 349.1Z"/>
<path class="s" d="M535.9 349.1 L546.6 348.2 L540.4 359.0 L529.6 358.8Z"/>
<path class="s" d="M529.6 358.8 L540.4 359.0 L534.2 362.1 L523.4 374.8Z"/>
<path class="s" d="M523.4 374.8 L534.2 362.1 L528.0 379.9 L517.2 385.0Z"/>
<path class="s" d="M517.2 385.0 L528.0 379.9 L521.7 392.7 L511.0 397.7Z"/>
<path class="s" d="M511.0 397.7 L521.7 392.7 L515.5 411.2 L504.7 406.0Z"/>
<path class="s" d="M504.7 406.0 L515.5 411.2 L509.3 414.6 L498.5 416.3Z"/>
<path class="s" d="M498.5 416.3 L509.3 414.6 L503.0 431.6 L492.3 432.6Z"/>
<path class="s" d="M492.3 432.6 L503.0 431.6 L496.8 442.8 L486.0 429.7Z"/>
<path class="s" d="M486.0 429.7 L496.8 442.8 L490.6 447.0 L479.8 447.9Z"/>
<path class="s" d="M479.8 447.9 L490.6 447.0 L484.3 458.3 L473.6 450.5Z"/>
<path class="s" d="M473.6 450.5 L484.3 458.3 L478.1 455.0 L467.3 449.3Z"/>
<path class="s" d="M467.3 449.3 L478.1 455.0 L471.9 455.8 L461.1 450.5Z"/>
<path class="s" d="M461.1 450.5 L471.9 455.8 L465.6 466.1 L454.9 452.9Z"/>
<path class="s" d="M454.9 452.9 L465.6 466.1 L459.4 463.1 L448.6 458.2Z"/>
<path class="s" d="M448.6 458.2 L459.4 463.1 L453.2 469.1 L442.4 453.8Z"/>
<path class="s" d="M442.4 453.8 L453.2 469.1 L446.9 466.6 L436.2 459.9Z"/>
<path class="s" d="M436.2 459.9 L446.9 466.6 L440.7 465.7 L429.9 457.9Z"/>
<path class="s" d="M429.9 457.9 L440.7 465.7 L434.5 474.7 L423.7 460.9Z"/>
<path class="s" d="M423.7 460.9 L434.5 474.7 L428.3 468.1 L417.5 470.7Z"/>
<path class="s" d="M417.5 470.7 L428.3 468.1 L422.0 476.6 L411.3 470.3Z"/>
<path class="s" d="M411.3 470.3 L422.0 476.6 L415.8 479.7 L405.0 470.9Z"/>
<path class="s" d="M405.0 470.9 L415.8 479.7 L409.6 477.3 L398.8 465.9Z"/>
<path class="s" d="M398.8 465.9 L409.6 477.3 L403.3 474.1 L392.6 462.9Z"/>
<path class="s" d="M392.6 462.9 L403.3 474.1 L397.1 477.0 L386.3 458.4Z"/>
<path class="s" d="M386.3 458.4 L397.1 477.0 L390.9 469.5 L380.1 456.9Z"/>
<path class="s" d="M380.1 456.9 L390.9 469.5 L384.6 469.0 L373.9 448.7Z"/>
<path class="s" d="M373.9 448.7 L384.6 469.0 L378.4 457.0 L367.6 444.6Z"/>
<path class="s" d="M621.4 259.0 L632.2 256.9 L626.0 263.9 L615.2 263.6Z"/>
<path class="t" d="M615.2 263.6 L626.0 263.9 L619.7 241.5 L609.0 270.1Z"/>
<path class="s" d="M609.0 270.1 L619.7 241.5 L613.5 279.0 L602.7 275.9Z"/>
<path class="s" d="M602.7 275.9 L613.5 279.0 L607.3 279.2 L596.5 280.5Z"/>
<path class="t" d="M596.5 280.5 L607.3 279.2 L601.0 274.0 L590.3 275.5Z"/>
<path class="s" d="M590.3 275.5 L601.0 274.0 L594.8 283.5 L584.0 280.9Z"/>
<path class="s" d="M584.0 280.9 L594.8 283.5 L588.6 289.6 L577.8 293.0Z"/>
<path class="s" d="M577.8 293.0 L588.6 289.6 L582.3 303.9 L571.6 308.9Z"/>
<path class="s" d="M571.6 308.9 L582.3 303.9 L576.1 317.5 L565.3 311.5Z"/>
<path class="s" d="M565.3 311.5 L576.1 317.5 L569.9 325.1 L559.1 326.4Z"/>
<path class="s" d="M559.1 326.4 L569.9 325.1 L563.6 333.3 L552.9 338.8Z"/>
<path class="s" d="M552.9 338.8 L563.6 333.3 L557.4 344.2 L546.6 348.2Z"/>
<path class="s" d="M546.6 348.2 L557.4 344.2 L551.2 355.3 L540.4 359.0Z"/>
<path class="s" d="M540.4 359.0 L551.2 355.3 L545.0 365.5 L534.2 362.1Z"/>
<path class="s" d="M534.2 362.1 L545.0 365.5 L538.7 374.0 L528.0 379.9Z"/>
<path class="s" d="M528.0 379.9 L538.7 374.0 L532.5 387.2 L521.7 392.7Z"/>
<path class="s" d="M521.7 392.7 L532.5 387.2 L526.3 398.4 L515.5 411.2Z"/>
<path class="s" d="M515.5 411.2 L526.3 398.4 L520.0 409.5 L509.3 414.6Z"/>
<path class="s" d="M509.3 414.6 L520.0 409.5 L513.8 429.4 L503.0 431.6Z"/>
<path class="s" d="M503.0 431.6 L513.8 429.4 L507.6 434.0 L496.8 442.8Z"/>
<path class="s" d="M496.8 442.8 L507.6 434.0 L501.3 447.8 L490.6 447.0Z"/>
<path class="s" d="M490.6 447.0 L501.3 447.8 L495.1 461.1 L484.3 458.3Z"/>
<path class="s" d="M484.3 458.3 L495.1 461.1 L488.9 463.5 L478.1 455.0Z"/>
<path class="s" d="M478.1 455.0 L488.9 463.5 L482.6 463.1 L471.9 455.8Z"/>
<path class="s" d="M471.9 455.8 L482.6 463.1 L476.4 465.7 L465.6 466.1Z"/>
<path class="s" d="M465.6 466.1 L476.4 465.7 L470.2 466.9 L459.4 463.1Z"/>
<path class="s" d="M459.4 463.1 L470.2 466.9 L463.9 468.1 L453.2 469.1Z"/>
<path class="s" d="M453.2 469.1 L463.9 468.1 L457.7 470.2 L446.9 466.6Z"/>
<path class="s" d="M446.9 466.6 L457.7 470.2 L451.5 474.9 L440.7 465.7Z"/>
<path class="s" d="M440.7 465.7 L451.5 474.9 L445.3 482.9 L434.5 474.7Z"/>
<path class="s" d="M434.5 474.7 L445.3 482.9 L439.0 481.3 L428.3 468.1Z"/>
<path class="s" d="M428.3 468.1 L439.0 481.3 L432.8 480.8 L422.0 476.6Z"/>
<path class="s" d="M422.0 476.6 L432.8 480.8 L426.6 485.8 L415.8 479.7Z"/>
<path class="s" d="M415.8 479.7 L426.6 485.8 L420.3 483.1 L409.6 477.3Z"/>
<path class="s" d="M409.6 477.3 L420.3 483.1 L414.1 483.5 L403.3 474.1Z"/>
<path class="s" d="M403.3 474.1 L414.1 483.5 L407.9 486.1 L397.1 477.0Z"/>
<path class="t" d="M397.1 477.0 L407.9 486.1 L401.6 477.3 L390.9 469.5Z"/>
<path class="s" d="M390.9 469.5 L401.6 477.3 L395.4 482.3 L384.6 469.0Z"/>
<path class="t" d="M384.6 469.0 L395.4 482.3 L389.2 472.6 L378.4 457.0Z"/>
<path class="s" d="M632.2 256.9 L643.0 260.9 L636.7 267.1 L626.0 263.9Z"/>
<path class="t" d="M626.0 263.9 L636.7 267.1 L630.5 268.6 L619.7 241.5Z"/>
<path class="s" d="M619.7 241.5 L630.5 268.6 L624.3 277.2 L613.5 279.0Z"/>
<path class="t" d="M613.5 279.0 L624.3 277.2 L618.0 275.1 L607.3 279.2Z"/>
<path class="s" d="M607.3 279.2 L618.0 275.1 L611.8 281.9 L601.0 274.0Z"/>
<path class="s" d="M601.0 274.0 L611.8 281.9 L605.6 282.4 L594.8 283.5Z"/>
<path class="s" d="M594.8 283.5 L605.6 282.4 L599.3 295.1 L588.6 289.6Z"/>
<path class="s" d="M588.6 289.6 L599.3 295.1 L593.1 303.7 L582.3 303.9Z"/>
<path class="s" d="M582.3 303.9 L593.1 303.7 L586.9 314.7 L576.1 317.5Z"/>
<path class="s" d="M576.1 317.5 L586.9 314.7 L580.6 325.3 L569.9 325.1Z"/>
<path class="s" d="M569.9 325.1 L580.6 325.3 L574.4 328.6 L563.6 333.3Z"/>
<path class="s" d="M563.6 333.3 L574.4 328.6 L568.2 343.1 L557.4 344.2Z"/>
<path class="s" d="M557.4 344.2 L568.2 343.1 L562.0 351.6 L551.2 355.3Z"/>
<path class="s" d="M551.2 355.3 L562.0 351.6 L555.7 355.8 L545.0 365.5Z"/>
<path class="s" d="M545.0 365.5 L555.7 355.8 L549.5 367.2 L538.7 374.0Z"/>
<path class="s" d="M538.7 374.0 L549.5 367.2 L543.3 380.2 L532.5 387.2Z"/>
<path class="s" d="M532.5 387.2 L543.3 380.2 L537.0 393.0 L526.3 398.4Z"/>
<path class="s" d="M526.3 398.4 L537.0 393.0 L530.8 399.4 L520.0 409.5Z"/>
<path class="s" d="M520.0 409.5 L530.8 399.4 L524.6 422.3 L513.8 429.4Z"/>
<path class="s" d="M513.8 429.4 L524.6 422.3 L518.3 434.1 L507.6 434.0Z"/>
<path class="s" d="M507.6 434.0 L518.3 434.1 L512.1 447.9 L501.3 447.8Z"/>
<path class="s" d="M501.3 447.8 L512.1 447.9 L505.9 453.4 L495.1 461.1Z"/>
<path class="s" d="M495.1 461.1 L505.9 453.4 L499.6 464.1 L488.9 463.5Z"/>
<path class="s" d="M488.9 463.5 L499.6 464.1 L493.4 468.5 L482.6 463.1Z"/>
<path class="s" d="M482.6 463.1 L493.4 468.5 L487.2 470.7 L476.4 465.7Z"/>
<path class="s" d="M476.4 465.7 L487.2 470.7 L480.9 476.0 L470.2 466.9Z"/>
<path class="s" d="M470.2 466.9 L480.9 476.0 L474.7 479.6 L463.9 468.1Z"/>
<path class="s" d="M463.9 468.1 L474.7 479.6 L468.5 482.0 L457.7 470.2Z"/>
<path class="s" d="M457.7 470.2 L468.5 482.0 L462.3 474.6 L451.5 474.9Z"/>
<path class="s" d="M451.5 474.9 L462.3 474.6 L456.0 480.3 L445.3 482.9Z"/>
<path class="s" d="M445.3 482.9 L456.0 480.3 L449.8 483.4 L439.0 481.3Z"/>
<path class="s" d="M439.0 481.3 L449.8 483.4 L443.6 488.4 L432.8 480.8Z"/>
<path class="s" d="M432.8 480.8 L443.6 488.4 L437.3 490.8 L426.6 485.8Z"/>
<path class="s" d="M426.6 485.8 L437.3 490.8 L431.1 494.0 L420.3 483.1Z"/>
<path class="s" d="M420.3 483.1 L431.1 494.0 L424.9 494.8 L414.1 483.5Z"/>
<path class="s" d="M414.1 483.5 L424.9 494.8 L418.6 501.7 L407.9 486.1Z"/>
<path class="s" d="M407.9 486.1 L418.6 501.7 L412.4 495.6 L401.6 477.3Z"/>
<path class="s" d="M401.6 477.3 L412.4 495.6 L406.2 493.7 L395.4 482.3Z"/>
<path class="s" d="M395.4 482.3 L406.2 493.7 L399.9 488.5 L389.2 472.6Z"/>
<path class="s" d="M643.0 260.9 L653.7 259.3 L647.5 264.5 L636.7 267.1Z"/>
<path class="s" d="M636.7 267.1 L647.5 264.5 L641.3 271.2 L630.5 268.6Z"/>
<path class="s" d="M630.5 268.6 L641.3 271.2 L635.0 273.7 L624.3 277.2Z"/>
<path class="s" d="M624.3 277.2 L635.0 273.7 L628.8 286.0 L618.0 275.1Z"/>
<path class="s" d="M618.0 275.1 L628.8 286.0 L622.6 281.7 L611.8 281.9Z"/>
<path class="t" d="M611.8 281.9 L622.6 281.7 L616.3 277.7 L605.6 282.4Z"/>
<path class="s" d="M605.6 282.4 L616.3 277.7 L610.1 296.3 L599.3 295.1Z"/>
<path class="s" d="M599.3 295.1 L610.1 296.3 L603.9 303.5 L593.1 303.7Z"/>
<path class="s" d="M593.1 303.7 L603.9 303.5 L597.6 310.7 L586.9 314.7Z"/>
<path class="s" d="M586.9 314.7 L597.6 310.7 L591.4 323.1 L580.6 325.3Z"/>
<path class="s" d="M580.6 325.3 L591.4 323.1 L585.2 326.4 L574.4 328.6Z"/>
<path class="s" d="M574.4 328.6 L585.2 326.4 L579.0 340.9 L568.2 343.1Z"/>
<path class="s" d="M568.2 343.1 L579.0 340.9 L572.7 350.9 L562.0 351.6Z"/>
<path class="s" d="M562.0 351.6 L572.7 350.9 L566.5 358.2 L555.7 355.8Z"/>
<path class="s" d="M555.7 355.8 L566.5 358.2 L560.3 370.3 L549.5 367.2Z"/>
<path class="s" d="M549.5 367.2 L560.3 370.3 L554.0 377.2 L543.3 380.2Z"/>
<path class="s" d="M543.3 380.2 L554.0 377.2 L547.8 389.5 L537.0 393.0Z"/>
<path class="s" d="M537.0 393.0 L547.8 389.5 L541.6 399.3 L530.8 399.4Z"/>
<path class="s" d="M530.8 399.4 L541.6 399.3 L535.3 416.0 L524.6 422.3Z"/>
<path class="s" d="M524.6 422.3 L535.3 416.0 L529.1 419.2 L518.3 434.1Z"/>
<path class="s" d="M518.3 434.1 L529.1 419.2 L522.9 441.4 L512.1 447.9Z"/>
<path class="s" d="M512.1 447.9 L522.9 441.4 L516.6 453.9 L505.9 453.4Z"/>
<path class="s" d="M505.9 453.4 L516.6 453.9 L510.4 463.0 L499.6 464.1Z"/>
<path class="s" d="M499.6 464.1 L510.4 463.0 L504.2 473.7 L493.4 468.5Z"/>
<path class="s" d="M493.4 468.5 L504.2 473.7 L497.9 481.6 L487.2 470.7Z"/>
<path class="s" d="M487.2 470.7 L497.9 481.6 L491.7 481.3 L480.9 476.0Z"/>
<path class="s" d="M480.9 476.0 L491.7 481.3 L485.5 480.7 L474.7 479.6Z"/>
<path class="s" d="M474.7 479.6 L485.5 480.7 L479.3 483.4 L468.5 482.0Z"/>
<path class="s" d="M468.5 482.0 L479.3 483.4 L473.0 484.5 L462.3 474.6Z"/>
<path class="s" d="M462.3 474.6 L473.0 484.5 L466.8 491.0 L456.0 480.3Z"/>
<path class="s" d="M456.0 480.3 L466.8 491.0 L460.6 493.7 L449.8 483.4Z"/>
<path class="s" d="M449.8 483.4 L460.6 493.7 L454.3 487.6 L443.6 488.4Z"/>
<path class="s" d="M443.6 488.4 L454.3 487.6 L448.1 496.4 L437.3 490.8Z"/>
<path class="s" d="M437.3 490.8 L448.1 496.4 L441.9 497.1 L431.1 494.0Z"/>
<path class="s" d="M431.1 494.0 L441.9 497.1 L435.6 499.2 L424.9 494.8Z"/>
<path class="s" d="M424.9 494.8 L435.6 499.2 L429.4 498.5 L418.6 501.7Z"/>
<path class="s" d="M418.6 501.7 L429.4 498.5 L423.2 507.4 L412.4 495.6Z"/>
<path class="s" d="M412.4 495.6 L423.2 507.4 L416.9 505.7 L406.2 493.7Z"/>
<path class="s" d="M406.2 493.7 L416.9 505.7 L410.7 503.5 L399.9 488.5Z"/>
<path class="s" d="M653.7 259.3 L664.5 258.9 L658.3 276.2 L647.5 264.5Z"/>
<path class="s" d="M647.5 264.5 L658.3 276.2 L652.0 273.6 L641.3 271.2Z"/>
<path class="s" d="M641.3 271.2 L652.0 273.6 L645.8 285.3 L635.0 273.7Z"/>
<path class="s" d="M635.0 273.7 L645.8 285.3 L639.6 278.9 L628.8 286.0Z"/>
<path class="t" d="M628.8 286.0 L639.6 278.9 L633.3 278.4 L622.6 281.7Z"/>
<path class="s" d="M622.6 281.7 L633.3 278.4 L627.1 282.4 L616.3 277.7Z"/>
<path class="s" d="M616.3 277.7 L627.1 282.4 L620.9 297.6 L610.1 296.3Z"/>
<path class="s" d="M610.1 296.3 L620.9 297.6 L614.6 300.6 L603.9 303.5Z"/>
<path class="s" d="M603.9 303.5 L614.6 300.6 L608.4 315.6 L597.6 310.7Z"/>
<path class="s" d="M597.6 310.7 L608.4 315.6 L602.2 323.8 L591.4 323.1Z"/>
<path class="s" d="M591.4 323.1 L602.2 323.8 L596.0 330.3 L585.2 326.4Z"/>
<path class="s" d="M585.2 326.4 L596.0 330.3 L589.7 337.5 L579.0 340.9Z"/>
<path class="s" d="M579.0 340.9 L589.7 337.5 L583.5 342.4 L572.7 350.9Z"/>
<path class="s" d="M572.7 350.9 L583.5 342.4 L577.3 348.8 L566.5 358.2Z"/>
<path class="s" d="M566.5 358.2 L577.3 348.8 L571.0 367.9 L560.3 370.3Z"/>
<path class="s" d="M560.3 370.3 L571.0 367.9 L564.8 374.3 L554.0 377.2Z"/>
<path class="s" d="M554.0 377.2 L564.8 374.3 L558.6 381.0 L547.8 389.5Z"/>
<path class="s" d="M547.8 389.5 L558.6 381.0 L552.3 394.2 L541.6 399.3Z"/>
<path class="s" d="M541.6 399.3 L552.3 394.2 L546.1 405.7 L535.3 416.0Z"/>
<path class="s" d="M535.3 416.0 L546.1 405.7 L539.9 425.5 L529.1 419.2Z"/>
<path class="s" d="M529.1 419.2 L539.9 425.5 L533.6 433.7 L522.9 441.4Z"/>
<path class="s" d="M522.9 441.4 L533.6 433.7 L527.4 455.0 L516.6 453.9Z"/>
<path class="s" d="M516.6 453.9 L527.4 455.0 L521.2 461.8 L510.4 463.0Z"/>
<path class="s" d="M510.4 463.0 L521.2 461.8 L514.9 468.4 L504.2 473.7Z"/>
<path class="s" d="M504.2 473.7 L514.9 468.4 L508.7 475.4 L497.9 481.6Z"/>
<path class="s" d="M497.9 481.6 L508.7 475.4 L502.5 486.2 L491.7 481.3Z"/>
<path class="s" d="M491.7 481.3 L502.5 486.2 L496.3 487.0 L485.5 480.7Z"/>
<path class="s" d="M485.5 480.7 L496.3 487.0 L490.0 493.3 L479.3 483.4Z"/>
<path class="s" d="M479.3 483.4 L490.0 493.3 L483.8 494.9 L473.0 484.5Z"/>
<path class="s" d="M473.0 484.5 L483.8 494.9 L477.6 492.0 L466.8 491.0Z"/>
<path class="s" d="M466.8 491.0 L477.6 492.0 L471.3 497.5 L460.6 493.7Z"/>
<path class="s" d="M460.6 493.7 L471.3 497.5 L465.1 500.0 L454.3 487.6Z"/>
<path class="s" d="M454.3 487.6 L465.1 500.0 L458.9 505.9 L448.1 496.4Z"/>
<path class="s" d="M448.1 496.4 L458.9 505.9 L452.6 503.6 L441.9 497.1Z"/>
<path class="s" d="M441.9 497.1 L452.6 503.6 L446.4 504.9 L435.6 499.2Z"/>
<path class="s" d="M435.6 499.2 L446.4 504.9 L440.2 512.0 L429.4 498.5Z"/>
<path class="s" d="M429.4 498.5 L440.2 512.0 L433.9 512.8 L423.2 507.4Z"/>
<path class="t" d="M423.2 507.4 L433.9 512.8 L427.7 507.5 L416.9 505.7Z"/>
<path class="s" d="M416.9 505.7 L427.7 507.5 L421.5 512.6 L410.7 503.5Z"/>
<path class="s" d="M664.5 258.9 L675.3 257.0 L669.0 272.9 L658.3 276.2Z"/>
<path class="s" d="M658.3 276.2 L669.0 272.9 L662.8 277.3 L652.0 273.6Z"/>
<path class="s" d="M652.0 273.6 L662.8 277.3 L656.6 279.1 L645.8 285.3Z"/>
<path class="t" d="M645.8 285.3 L656.6 279.1 L650.3 277.0 L639.6 278.9Z"/>
<path class="s" d="M639.6 278.9 L650.3 277.0 L644.1 283.5 L633.3 278.4Z"/>
<path class="s" d="M633.3 278.4 L644.1 283.5 L637.9 280.7 L627.1 282.4Z"/>
<path class="s" d="M627.1 282.4 L637.9 280.7 L631.6 298.9 L620.9 297.6Z"/>
<path class="s" d="M620.9 297.6 L631.6 298.9 L625.4 306.4 L614.6 300.6Z"/>
<path class="s" d="M614.6 300.6 L625.4 306.4 L619.2 312.1 L608.4 315.6Z"/>
<path class="s" d="M608.4 315.6 L619.2 312.1 L613.0 321.8 L602.2 323.8Z"/>
<path class="s" d="M602.2 323.8 L613.0 321.8 L606.7 330.2 L596.0 330.3Z"/>
<path class="s" d="M596.0 330.3 L606.7 330.2 L600.5 335.0 L589.7 337.5Z"/>
<path class="s" d="M589.7 337.5 L600.5 335.0 L594.3 340.4 L583.5 342.4Z"/>
<path class="s" d="M583.5 342.4 L594.3 340.4 L588.0 354.2 L577.3 348.8Z"/>
<path class="s" d="M577.3 348.8 L588.0 354.2 L581.8 359.8 L571.0 367.9Z"/>
<path class="s" d="M571.0 367.9 L581.8 359.8 L575.6 369.7 L564.8 374.3Z"/>
<path class="s" d="M564.8 374.3 L575.6 369.7 L569.3 380.8 L558.6 381.0Z"/>
<path class="s" d="M558.6 381.0 L569.3 380.8 L563.1 387.8 L552.3 394.2Z"/>
<path class="s" d="M552.3 394.2 L563.1 387.8 L556.9 403.6 L546.1 405.7Z"/>
<path class="s" d="M546.1 405.7 L556.9 403.6 L550.6 416.7 L539.9 425.5Z"/>
<path class="s" d="M539.9 425.5 L550.6 416.7 L544.4 431.6 L533.6 433.7Z"/>
<path class="s" d="M533.6 433.7 L544.4 431.6 L538.2 444.5 L527.4 455.0Z"/>
<path class="s" d="M527.4 455.0 L538.2 444.5 L531.9 460.2 L521.2 461.8Z"/>
<path class="s" d="M521.2 461.8 L531.9 460.2 L525.7 466.2 L514.9 468.4Z"/>
<path class="s" d="M514.9 468.4 L525.7 466.2 L519.5 483.1 L508.7 475.4Z"/>
<path class="s" d="M508.7 475.4 L519.5 483.1 L513.3 485.1 L502.5 486.2Z"/>
<path class="s" d="M502.5 486.2 L513.3 485.1 L507.0 498.2 L496.3 487.0Z"/>
<path class="s" d="M496.3 487.0 L507.0 498.2 L500.8 498.1 L490.0 493.3Z"/>
<path class="s" d="M490.0 493.3 L500.8 498.1 L494.6 498.5 L483.8 494.9Z"/>
<path class="t" d="M483.8 494.9 L494.6 498.5 L488.3 495.6 L477.6 492.0Z"/>
<path class="s" d="M477.6 492.0 L488.3 495.6 L482.1 501.0 L471.3 497.5Z"/>
<path class="s" d="M471.3 497.5 L482.1 501.0 L475.9 507.0 L465.1 500.0Z"/>
<path class="s" d="M465.1 500.0 L475.9 507.0 L469.6 504.1 L458.9 505.9Z"/>
<path class="s" d="M458.9 505.9 L469.6 504.1 L463.4 510.8 L452.6 503.6Z"/>
<path class="s" d="M452.6 503.6 L463.4 510.8 L457.2 514.7 L446.4 504.9Z"/>
<path class="s" d="M446.4 504.9 L457.2 514.7 L450.9 513.9 L440.2 512.0Z"/>
<path class="s" d="M440.2 512.0 L450.9 513.9 L444.7 517.8 L433.9 512.8Z"/>
<path class="s" d="M433.9 512.8 L444.7 517.8 L438.5 517.2 L427.7 507.5Z"/>
<path class="s" d="M427.7 507.5 L438.5 517.2 L432.2 522.5 L421.5 512.6Z"/>
<path class="s" d="M675.3 257.0 L686.0 253.3 L679.8 266.6 L669.0 272.9Z"/>
<path class="t" d="M669.0 272.9 L679.8 266.6 L673.6 249.4 L662.8 277.3Z"/>
<path class="s" d="M662.8 277.3 L673.6 249.4 L667.3 280.6 L656.6 279.1Z"/>
<path class="s" d="M656.6 279.1 L667.3 280.6 L661.1 284.3 L650.3 277.0Z"/>
<path class="s" d="M650.3 277.0 L661.1 284.3 L654.9 280.7 L644.1 283.5Z"/>
<path class="t" d="M644.1 283.5 L654.9 280.7 L648.6 279.0 L637.9 280.7Z"/>
<path class="s" d="M637.9 280.7 L648.6 279.0 L642.4 297.0 L631.6 298.9Z"/>
<path class="s" d="M631.6 298.9 L642.4 297.0 L636.2 308.6 L625.4 306.4Z"/>
<path class="s" d="M625.4 306.4 L636.2 308.6 L630.0 316.7 L619.2 312.1Z"/>
<path class="t" d="M619.2 312.1 L630.0 316.7 L623.7 308.3 L613.0 321.8Z"/>
<path class="s" d="M613.0 321.8 L623.7 308.3 L617.5 329.2 L606.7 330.2Z"/>
<path class="s" d="M606.7 330.2 L617.5 329.2 L611.3 333.4 L600.5 335.0Z"/>
<path class="s" d="M600.5 335.0 L611.3 333.4 L605.0 341.8 L594.3 340.4Z"/>
<path class="s" d="M594.3 340.4 L605.0 341.8 L598.8 346.2 L588.0 354.2Z"/>
<path class="s" d="M588.0 354.2 L598.8 346.2 L592.6 356.9 L581.8 359.8Z"/>
<path class="s" d="M581.8 359.8 L592.6 356.9 L586.3 363.4 L575.6 369.7Z"/>
<path class="s" d="M575.6 369.7 L586.3 363.4 L580.1 377.3 L569.3 380.8Z"/>
<path class="s" d="M569.3 380.8 L580.1 377.3 L573.9 391.1 L563.1 387.8Z"/>
<path class="s" d="M563.1 387.8 L573.9 391.1 L567.6 396.2 L556.9 403.6Z"/>
<path class="s" d="M556.9 403.6 L567.6 396.2 L561.4 411.4 L550.6 416.7Z"/>
<path class="s" d="M550.6 416.7 L561.4 411.4 L555.2 430.1 L544.4 431.6Z"/>
<path class="s" d="M544.4 431.6 L555.2 430.1 L548.9 440.9 L538.2 444.5Z"/>
<path class="s" d="M538.2 444.5 L548.9 440.9 L542.7 455.7 L531.9 460.2Z"/>
<path class="s" d="M531.9 460.2 L542.7 455.7 L536.5 466.8 L525.7 466.2Z"/>
<path class="s" d="M525.7 466.2 L536.5 466.8 L530.3 479.8 L519.5 483.1Z"/>
<path class="s" d="M519.5 483.1 L530.3 479.8 L524.0 487.9 L513.3 485.1Z"/>
<path class="s" d="M513.3 485.1 L524.0 487.9 L517.8 496.2 L507.0 498.2Z"/>
<path class="s" d="M507.0 498.2 L517.8 496.2 L511.6 498.5 L500.8 498.1Z"/>
<path class="s" d="M500.8 498.1 L511.6 498.5 L505.3 507.6 L494.6 498.5Z"/>
<path class="s" d="M494.6 498.5 L505.3 507.6 L499.1 507.7 L488.3 495.6Z"/>
<path class="s" d="M488.3 495.6 L499.1 507.7 L492.9 508.7 L482.1 501.0Z"/>
<path class="s" d="M482.1 501.0 L492.9 508.7 L486.6 516.9 L475.9 507.0Z"/>
<path class="s" d="M475.9 507.0 L486.6 516.9 L480.4 518.7 L469.6 504.1Z"/>
<path class="s" d="M469.6 504.1 L480.4 518.7 L474.2 509.8 L463.4 510.8Z"/>
<path class="s" d="M463.4 510.8 L474.2 509.8 L467.9 523.6 L457.2 514.7Z"/>
<path class="s" d="M457.2 514.7 L467.9 523.6 L461.7 519.0 L450.9 513.9Z"/>
<path class="s" d="M450.9 513.9 L461.7 519.0 L455.5 526.6 L444.7 517.8Z"/>
<path class="s" d="M444.7 517.8 L455.5 526.6 L449.2 529.4 L438.5 517.2Z"/>
<path class="s" d="M438.5 517.2 L449.2 529.4 L443.0 534.5 L432.2 522.5Z"/>
<path class="s" d="M686.0 253.3 L696.8 255.9 L690.6 265.1 L679.8 266.6Z"/>
<path class="s" d="M679.8 266.6 L690.6 265.1 L684.3 282.0 L673.6 249.4Z"/>
<path class="s" d="M673.6 249.4 L684.3 282.0 L678.1 280.9 L667.3 280.6Z"/>
<path class="s" d="M667.3 280.6 L678.1 280.9 L671.9 283.4 L661.1 284.3Z"/>
<path class="t" d="M661.1 284.3 L671.9 283.4 L665.6 279.2 L654.9 280.7Z"/>
<path class="s" d="M654.9 280.7 L665.6 279.2 L659.4 291.5 L648.6 279.0Z"/>
<path class="s" d="M648.6 279.0 L659.4 291.5 L653.2 297.0 L642.4 297.0Z"/>
<path class="s" d="M642.4 297.0 L653.2 297.0 L647.0 307.2 L636.2 308.6Z"/>
<path class="s" d="M636.2 308.6 L647.0 307.2 L640.7 319.8 L630.0 316.7Z"/>
<path class="s" d="M630.0 316.7 L640.7 319.8 L634.5 330.3 L623.7 308.3Z"/>
<path class="s" d="M623.7 308.3 L634.5 330.3 L628.3 327.3 L617.5 329.2Z"/>
<path class="s" d="M617.5 329.2 L628.3 327.3 L622.0 341.9 L611.3 333.4Z"/>
<path class="s" d="M611.3 333.4 L622.0 341.9 L615.8 345.3 L605.0 341.8Z"/>
<path class="s" d="M605.0 341.8 L615.8 345.3 L609.6 347.4 L598.8 346.2Z"/>
<path class="s" d="M598.8 346.2 L609.6 347.4 L603.3 355.0 L592.6 356.9Z"/>
<path class="s" d="M592.6 356.9 L603.3 355.0 L597.1 369.5 L586.3 363.4Z"/>
<path class="s" d="M586.3 363.4 L597.1 369.5 L590.9 375.6 L580.1 377.3Z"/>
<path class="s" d="M580.1 377.3 L590.9 375.6 L584.6 384.9 L573.9 391.1Z"/>
<path class="s" d="M573.9 391.1 L584.6 384.9 L578.4 391.0 L567.6 396.2Z"/>
<path class="s" d="M567.6 396.2 L578.4 391.0 L572.2 399.9 L561.4 411.4Z"/>
<path class="s" d="M561.4 411.4 L572.2 399.9 L565.9 428.9 L555.2 430.1Z"/>
<path class="s" d="M555.2 430.1 L565.9 428.9 L559.7 436.7 L548.9 440.9Z"/>
<path class="s" d="M548.9 440.9 L559.7 436.7 L553.5 461.8 L542.7 455.7Z"/>
<path class="s" d="M542.7 455.7 L553.5 461.8 L547.3 465.3 L536.5 466.8Z"/>
<path class="s" d="M536.5 466.8 L547.3 465.3 L541.0 479.7 L530.3 479.8Z"/>
<path class="s" d="M530.3 479.8 L541.0 479.7 L534.8 481.1 L524.0 487.9Z"/>
<path class="s" d="M524.0 487.9 L534.8 481.1 L528.6 496.1 L517.8 496.2Z"/>
<path class="s" d="M517.8 496.2 L528.6 496.1 L522.3 507.1 L511.6 498.5Z"/>
<path class="s" d="M511.6 498.5 L522.3 507.1 L516.1 513.1 L505.3 507.6Z"/>
<path class="s" d="M505.3 507.6 L516.1 513.1 L509.9 515.4 L499.1 507.7Z"/>
<path class="s" d="M499.1 507.7 L509.9 515.4 L503.6 515.2 L492.9 508.7Z"/>
<path class="s" d="M492.9 508.7 L503.6 515.2 L497.4 518.3 L486.6 516.9Z"/>
<path class="s" d="M486.6 516.9 L497.4 518.3 L491.2 518.1 L480.4 518.7Z"/>
<path class="t" d="M480.4 518.7 L491.2 518.1 L484.9 517.7 L474.2 509.8Z"/>
<path class="s" d="M474.2 509.8 L484.9 517.7 L478.7 522.4 L467.9 523.6Z"/>
<path class="s" d="M467.9 523.6 L478.7 522.4 L472.5 530.3 L461.7 519.0Z"/>
<path class="s" d="M461.7 519.0 L472.5 530.3 L466.2 535.1 L455.5 526.6Z"/>
<path class="s" d="M455.5 526.6 L466.2 535.1 L460.0 535.7 L449.2 529.4Z"/>
<path class="s" d="M449.2 529.4 L460.0 535.7 L453.8 531.7 L443.0 534.5Z"/>
<path class="s" d="M696.8 255.9 L707.6 254.8 L701.3 268.3 L690.6 265.1Z"/>
<path class="s" d="M690.6 265.1 L701.3 268.3 L695.1 277.3 L684.3 282.0Z"/>
<path class="s" d="M684.3 282.0 L695.1 277.3 L688.9 288.8 L678.1 280.9Z"/>
<path class="s" d="M678.1 280.9 L688.9 288.8 L682.6 289.9 L671.9 283.4Z"/>
<path class="t" d="M671.9 283.4 L682.6 289.9 L676.4 285.4 L665.6 279.2Z"/>
<path class="s" d="M665.6 279.2 L676.4 285.4 L670.2 293.1 L659.4 291.5Z"/>
<path class="s" d="M659.4 291.5 L670.2 293.1 L664.0 304.2 L653.2 297.0Z"/>
<path class="s" d="M653.2 297.0 L664.0 304.2 L657.7 311.1 L647.0 307.2Z"/>
<path class="s" d="M647.0 307.2 L657.7 311.1 L651.5 322.9 L640.7 319.8Z"/>
<path class="s" d="M640.7 319.8 L651.5 322.9 L645.3 329.7 L634.5 330.3Z"/>
<path class="s" d="M634.5 330.3 L645.3 329.7 L639.0 335.3 L628.3 327.3Z"/>
<path class="s" d="M628.3 327.3 L639.0 335.3 L632.8 338.3 L622.0 341.9Z"/>
<path class="s" d="M622.0 341.9 L632.8 338.3 L626.6 346.0 L615.8 345.3Z"/>
<path class="s" d="M615.8 345.3 L626.6 346.0 L620.3 355.7 L609.6 347.4Z"/>
<path class="s" d="M609.6 347.4 L620.3 355.7 L614.1 361.2 L603.3 355.0Z"/>
<path class="s" d="M603.3 355.0 L614.1 361.2 L607.9 366.6 L597.1 369.5Z"/>
<path class="s" d="M597.1 369.5 L607.9 366.6 L601.6 370.7 L590.9 375.6Z"/>
<path class="s" d="M590.9 375.6 L601.6 370.7 L595.4 387.2 L584.6 384.9Z"/>
<path class="s" d="M584.6 384.9 L595.4 387.2 L589.2 392.2 L578.4 391.0Z"/>
<path class="s" d="M578.4 391.0 L589.2 392.2 L582.9 405.9 L572.2 399.9Z"/>
<path class="s" d="M572.2 399.9 L582.9 405.9 L576.7 418.6 L565.9 428.9Z"/>
<path class="s" d="M565.9 428.9 L576.7 418.6 L570.5 435.5 L559.7 436.7Z"/>
<path class="s" d="M559.7 436.7 L570.5 435.5 L564.3 446.6 L553.5 461.8Z"/>
<path class="s" d="M553.5 461.8 L564.3 446.6 L558.0 461.3 L547.3 465.3Z"/>
<path class="s" d="M547.3 465.3 L558.0 461.3 L551.8 475.7 L541.0 479.7Z"/>
<path class="s" d="M541.0 479.7 L551.8 475.7 L545.6 486.6 L534.8 481.1Z"/>
<path class="s" d="M534.8 481.1 L545.6 486.6 L539.3 494.1 L528.6 496.1Z"/>
<path class="s" d="M528.6 496.1 L539.3 494.1 L533.1 503.7 L522.3 507.1Z"/>
<path class="s" d="M522.3 507.1 L533.1 503.7 L526.9 505.8 L516.1 513.1Z"/>
<path class="s" d="M516.1 513.1 L526.9 505.8 L520.6 514.7 L509.9 515.4Z"/>
<path class="s" d="M509.9 515.4 L520.6 514.7 L514.4 525.1 L503.6 515.2Z"/>
<path class="s" d="M503.6 515.2 L514.4 525.1 L508.2 522.8 L497.4 518.3Z"/>
<path class="s" d="M497.4 518.3 L508.2 522.8 L501.9 529.9 L491.2 518.1Z"/>
<path class="s" d="M491.2 518.1 L501.9 529.9 L495.7 533.0 L484.9 517.7Z"/>
<path class="s" d="M484.9 517.7 L495.7 533.0 L489.5 528.2 L478.7 522.4Z"/>
<path class="s" d="M478.7 522.4 L489.5 528.2 L483.2 531.1 L472.5 530.3Z"/>
<path class="s" d="M472.5 530.3 L483.2 531.1 L477.0 540.0 L466.2 535.1Z"/>
<path class="t" d="M466.2 535.1 L477.0 540.0 L470.8 535.1 L460.0 535.7Z"/>
<path class="s" d="M460.0 535.7 L470.8 535.1 L464.6 543.0 L453.8 531.7Z"/>
<path class="s" d="M707.6 254.8 L718.3 257.9 L712.1 263.8 L701.3 268.3Z"/>
<path class="s" d="M701.3 268.3 L712.1 263.8 L705.9 276.6 L695.1 277.3Z"/>
<path class="s" d="M695.1 277.3 L705.9 276.6 L699.7 285.8 L688.9 288.8Z"/>
<path class="s" d="M688.9 288.8 L699.7 285.8 L693.4 288.8 L682.6 289.9Z"/>
<path class="t" d="M682.6 289.9 L693.4 288.8 L687.2 288.4 L676.4 285.4Z"/>
<path class="s" d="M676.4 285.4 L687.2 288.4 L681.0 294.7 L670.2 293.1Z"/>
<path class="t" d="M670.2 293.1 L681.0 294.7 L674.7 289.4 L664.0 304.2Z"/>
<path class="s" d="M664.0 304.2 L674.7 289.4 L668.5 319.8 L657.7 311.1Z"/>
<path class="s" d="M657.7 311.1 L668.5 319.8 L662.3 327.4 L651.5 322.9Z"/>
<path class="s" d="M651.5 322.9 L662.3 327.4 L656.0 328.1 L645.3 329.7Z"/>
<path class="s" d="M645.3 329.7 L656.0 328.1 L649.8 338.2 L639.0 335.3Z"/>
<path class="s" d="M639.0 335.3 L649.8 338.2 L643.6 340.7 L632.8 338.3Z"/>
<path class="s" d="M632.8 338.3 L643.6 340.7 L637.3 344.8 L626.6 346.0Z"/>
<path class="s" d="M626.6 346.0 L637.3 344.8 L631.1 355.5 L620.3 355.7Z"/>
<path class="s" d="M620.3 355.7 L631.1 355.5 L624.9 361.7 L614.1 361.2Z"/>
<path class="t" d="M614.1 361.2 L624.9 361.7 L618.6 351.4 L607.9 366.6Z"/>
<path class="s" d="M607.9 366.6 L618.6 351.4 L612.4 376.3 L601.6 370.7Z"/>
<path class="s" d="M601.6 370.7 L612.4 376.3 L606.2 380.2 L595.4 387.2Z"/>
<path class="s" d="M595.4 387.2 L606.2 380.2 L599.9 389.6 L589.2 392.2Z"/>
<path class="s" d="M589.2 392.2 L599.9 389.6 L593.7 402.9 L582.9 405.9Z"/>
<path class="s" d="M582.9 405.9 L593.7 402.9 L587.5 420.7 L576.7 418.6Z"/>
<path class="s" d="M576.7 418.6 L587.5 420.7 L581.3 438.1 L570.5 435.5Z"/>
<path class="s" d="M570.5 435.5 L581.3 438.1 L575.0 452.7 L564.3 446.6Z"/>
<path class="s" d="M564.3 446.6 L575.0 452.7 L568.8 459.7 L558.0 461.3Z"/>
<path class="s" d="M558.0 461.3 L568.8 459.7 L562.6 470.8 L551.8 475.7Z"/>
<path class="s" d="M551.8 475.7 L562.6 470.8 L556.3 483.5 L545.6 486.6Z"/>
<path class="s" d="M545.6 486.6 L556.3 483.5 L550.1 491.2 L539.3 494.1Z"/>
<path class="s" d="M539.3 494.1 L550.1 491.2 L543.9 505.6 L533.1 503.7Z"/>
<path class="t" d="M533.1 503.7 L543.9 505.6 L537.6 484.0 L526.9 505.8Z"/>
<path class="s" d="M526.9 505.8 L537.6 484.0 L531.4 520.4 L520.6 514.7Z"/>
<path class="s" d="M520.6 514.7 L531.4 520.4 L525.2 527.7 L514.4 525.1Z"/>
<path class="s" d="M514.4 525.1 L525.2 527.7 L518.9 529.7 L508.2 522.8Z"/>
<path class="s" d="M508.2 522.8 L518.9 529.7 L512.7 532.2 L501.9 529.9Z"/>
<path class="t" d="M501.9 529.9 L512.7 532.2 L506.5 526.8 L495.7 533.0Z"/>
<path class="s" d="M495.7 533.0 L506.5 526.8 L500.2 541.1 L489.5 528.2Z"/>
<path class="s" d="M489.5 528.2 L500.2 541.1 L494.0 538.1 L483.2 531.1Z"/>
<path class="s" d="M483.2 531.1 L494.0 538.1 L487.8 563.0 L477.0 540.0Z"/>
<path class="t" d="M477.0 540.0 L487.8 563.0 L481.6 543.8 L470.8 535.1Z"/>
<path class="s" d="M470.8 535.1 L481.6 543.8 L475.3 545.1 L464.6 543.0Z"/>
<path class="s" d="M718.3 257.9 L729.1 250.0 L722.9 270.0 L712.1 263.8Z"/>
<path class="t" d="M712.1 263.8 L722.9 270.0 L716.7 247.5 L705.9 276.6Z"/>
<path class="s" d="M705.9 276.6 L716.7 247.5 L710.4 284.0 L699.7 285.8Z"/>
<path class="s" d="M699.7 285.8 L710.4 284.0 L704.2 294.9 L693.4 288.8Z"/>
<path class="s" d="M693.4 288.8 L704.2 294.9 L698.0 298.3 L687.2 288.4Z"/>
<path class="s" d="M687.2 288.4 L698.0 298.3 L691.7 293.8 L681.0 294.7Z"/>
<path class="s" d="M681.0 294.7 L691.7 293.8 L685.5 305.1 L674.7 289.4Z"/>
<path class="s" d="M674.7 289.4 L685.5 305.1 L679.3 314.4 L668.5 319.8Z"/>
<path class="s" d="M668.5 319.8 L679.3 314.4 L673.0 327.1 L662.3 327.4Z"/>
<path class="s" d="M662.3 327.4 L673.0 327.1 L666.8 331.6 L656.0 328.1Z"/>
<path class="s" d="M656.0 328.1 L666.8 331.6 L660.6 341.2 L649.8 338.2Z"/>
<path class="s" d="M649.8 338.2 L660.6 341.2 L654.3 339.5 L643.6 340.7Z"/>
<path class="s" d="M643.6 340.7 L654.3 339.5 L648.1 348.3 L637.3 344.8Z"/>
<path class="s" d="M637.3 344.8 L648.1 348.3 L641.9 354.5 L631.1 355.5Z"/>
<path class="s" d="M631.1 355.5 L641.9 354.5 L635.6 370.5 L624.9 361.7Z"/>
<path class="s" d="M624.9 361.7 L635.6 370.5 L629.4 370.6 L618.6 351.4Z"/>
<path class="s" d="M618.6 351.4 L629.4 370.6 L623.2 376.2 L612.4 376.3Z"/>
<path class="s" d="M612.4 376.3 L623.2 376.2 L617.0 384.3 L606.2 380.2Z"/>
<path class="s" d="M606.2 380.2 L617.0 384.3 L610.7 394.0 L599.9 389.6Z"/>
<path class="s" d="M599.9 389.6 L610.7 394.0 L604.5 407.1 L593.7 402.9Z"/>
<path class="s" d="M593.7 402.9 L604.5 407.1 L598.3 422.8 L587.5 420.7Z"/>
<path class="s" d="M587.5 420.7 L598.3 422.8 L592.0 434.6 L581.3 438.1Z"/>
<path class="s" d="M581.3 438.1 L592.0 434.6 L585.8 448.4 L575.0 452.7Z"/>
<path class="s" d="M575.0 452.7 L585.8 448.4 L579.6 459.9 L568.8 459.7Z"/>
<path class="s" d="M568.8 459.7 L579.6 459.9 L573.3 472.0 L562.6 470.8Z"/>
<path class="s" d="M562.6 470.8 L573.3 472.0 L567.1 476.8 L556.3 483.5Z"/>
<path class="s" d="M556.3 483.5 L567.1 476.8 L560.9 495.7 L550.1 491.2Z"/>
<path class="s" d="M550.1 491.2 L560.9 495.7 L554.6 502.8 L543.9 505.6Z"/>
<path class="s" d="M543.9 505.6 L554.6 502.8 L548.4 512.8 L537.6 484.0Z"/>
<path class="s" d="M537.6 484.0 L548.4 512.8 L542.2 516.6 L531.4 520.4Z"/>
<path class="s" d="M531.4 520.4 L542.2 516.6 L535.9 524.0 L525.2 527.7Z"/>
<path class="s" d="M525.2 527.7 L535.9 524.0 L529.7 532.0 L518.9 529.7Z"/>
<path class="s" d="M518.9 529.7 L529.7 532.0 L523.5 535.5 L512.7 532.2Z"/>
<path class="s" d="M512.7 532.2 L523.5 535.5 L517.2 544.1 L506.5 526.8Z"/>
<path class="s" d="M506.5 526.8 L517.2 544.1 L511.0 536.1 L500.2 541.1Z"/>
<path class="s" d="M500.2 541.1 L511.0 536.1 L504.8 543.0 L494.0 538.1Z"/>
<path class="s" d="M494.0 538.1 L504.8 543.0 L498.6 549.6 L487.8 563.0Z"/>
<path class="t" d="M487.8 563.0 L498.6 549.6 L492.3 550.3 L481.6 543.8Z"/>
<path class="s" d="M481.6 543.8 L492.3 550.3 L486.1 547.9 L475.3 545.1Z"/>
<path class="s" d="M729.1 250.0 L739.9 245.6 L733.7 267.1 L722.9 270.0Z"/>
<path class="s" d="M722.9 270.0 L733.7 267.1 L727.4 278.0 L716.7 247.5Z"/>
<path class="s" d="M716.7 247.5 L727.4 278.0 L721.2 293.4 L710.4 284.0Z"/>
<path class="s" d="M710.4 284.0 L721.2 293.4 L715.0 291.7 L704.2 294.9Z"/>
<path class="t" d="M704.2 294.9 L715.0 291.7 L708.7 292.0 L698.0 298.3Z"/>
<path class="t" d="M698.0 298.3 L708.7 292.0 L702.5 297.1 L691.7 293.8Z"/>
<path class="s" d="M691.7 293.8 L702.5 297.1 L696.3 310.0 L685.5 305.1Z"/>
<path class="s" d="M685.5 305.1 L696.3 310.0 L690.0 317.4 L679.3 314.4Z"/>
<path class="s" d="M679.3 314.4 L690.0 317.4 L683.8 324.9 L673.0 327.1Z"/>
<path class="s" d="M673.0 327.1 L683.8 324.9 L677.6 335.7 L666.8 331.6Z"/>
<path class="s" d="M666.8 331.6 L677.6 335.7 L671.3 336.3 L660.6 341.2Z"/>
<path class="s" d="M660.6 341.2 L671.3 336.3 L665.1 352.5 L654.3 339.5Z"/>
<path class="s" d="M654.3 339.5 L665.1 352.5 L658.9 356.6 L648.1 348.3Z"/>
<path class="s" d="M648.1 348.3 L658.9 356.6 L652.6 361.6 L641.9 354.5Z"/>
<path class="s" d="M641.9 354.5 L652.6 361.6 L646.4 374.2 L635.6 370.5Z"/>
<path class="s" d="M635.6 370.5 L646.4 374.2 L640.2 378.2 L629.4 370.6Z"/>
<path class="s" d="M629.4 370.6 L640.2 378.2 L634.0 379.1 L623.2 376.2Z"/>
<path class="s" d="M623.2 376.2 L634.0 379.1 L627.7 386.4 L617.0 384.3Z"/>
<path class="s" d="M617.0 384.3 L627.7 386.4 L621.5 398.3 L610.7 394.0Z"/>
<path class="s" d="M610.7 394.0 L621.5 398.3 L615.3 404.3 L604.5 407.1Z"/>
<path class="s" d="M604.5 407.1 L615.3 404.3 L609.0 423.3 L598.3 422.8Z"/>
<path class="s" d="M598.3 422.8 L609.0 423.3 L602.8 440.0 L592.0 434.6Z"/>
<path class="s" d="M592.0 434.6 L602.8 440.0 L596.6 450.6 L585.8 448.4Z"/>
<path class="s" d="M585.8 448.4 L596.6 450.6 L590.3 462.2 L579.6 459.9Z"/>
<path class="s" d="M579.6 459.9 L590.3 462.2 L584.1 469.4 L573.3 472.0Z"/>
<path class="s" d="M573.3 472.0 L584.1 469.4 L577.9 486.0 L567.1 476.8Z"/>
<path class="s" d="M567.1 476.8 L577.9 486.0 L571.6 488.8 L560.9 495.7Z"/>
<path class="s" d="M560.9 495.7 L571.6 488.8 L565.4 503.4 L554.6 502.8Z"/>
<path class="s" d="M554.6 502.8 L565.4 503.4 L559.2 507.4 L548.4 512.8Z"/>
<path class="s" d="M548.4 512.8 L559.2 507.4 L552.9 522.3 L542.2 516.6Z"/>
<path class="s" d="M542.2 516.6 L552.9 522.3 L546.7 527.8 L535.9 524.0Z"/>
<path class="s" d="M535.9 524.0 L546.7 527.8 L540.5 535.5 L529.7 532.0Z"/>
<path class="s" d="M529.7 532.0 L540.5 535.5 L534.3 540.9 L523.5 535.5Z"/>
<path class="s" d="M523.5 535.5 L534.3 540.9 L528.0 549.4 L517.2 544.1Z"/>
<path class="t" d="M517.2 544.1 L528.0 549.4 L521.8 543.1 L511.0 536.1Z"/>
<path class="s" d="M511.0 536.1 L521.8 543.1 L515.6 548.9 L504.8 543.0Z"/>
<path class="s" d="M504.8 543.0 L515.6 548.9 L509.3 556.6 L498.6 549.6Z"/>
<path class="t" d="M498.6 549.6 L509.3 556.6 L503.1 551.2 L492.3 550.3Z"/>
<path class="t" d="M492.3 550.3 L503.1 551.2 L496.9 549.3 L486.1 547.9Z"/>
<path class="s" d="M739.9 245.6 L750.7 259.1 L744.4 262.3 L733.7 267.1Z"/>
<path class="s" d="M733.7 267.1 L744.4 262.3 L738.2 276.2 L727.4 278.0Z"/>
<path class="s" d="M727.4 278.0 L738.2 276.2 L732.0 287.5 L721.2 293.4Z"/>
<path class="s" d="M721.2 293.4 L732.0 287.5 L725.7 293.7 L715.0 291.7Z"/>
<path class="s" d="M715.0 291.7 L725.7 293.7 L719.5 293.5 L708.7 292.0Z"/>
<path class="s" d="M708.7 292.0 L719.5 293.5 L713.3 299.9 L702.5 297.1Z"/>
<path class="s" d="M702.5 297.1 L713.3 299.9 L707.0 314.3 L696.3 310.0Z"/>
<path class="s" d="M696.3 310.0 L707.0 314.3 L700.8 322.9 L690.0 317.4Z"/>
<path class="s" d="M690.0 317.4 L700.8 322.9 L694.6 328.2 L683.8 324.9Z"/>
<path class="s" d="M683.8 324.9 L694.6 328.2 L688.3 329.7 L677.6 335.7Z"/>
<path class="s" d="M677.6 335.7 L688.3 329.7 L682.1 350.5 L671.3 336.3Z"/>
<path class="s" d="M671.3 336.3 L682.1 350.5 L675.9 346.9 L665.1 352.5Z"/>
<path class="s" d="M665.1 352.5 L675.9 346.9 L669.6 355.7 L658.9 356.6Z"/>
<path class="s" d="M658.9 356.6 L669.6 355.7 L663.4 358.9 L652.6 361.6Z"/>
<path class="s" d="M652.6 361.6 L663.4 358.9 L657.2 366.7 L646.4 374.2Z"/>
<path class="s" d="M646.4 374.2 L657.2 366.7 L651.0 377.3 L640.2 378.2Z"/>
<path class="s" d="M640.2 378.2 L651.0 377.3 L644.7 388.0 L634.0 379.1Z"/>
<path class="s" d="M634.0 379.1 L644.7 388.0 L638.5 396.4 L627.7 386.4Z"/>
<path class="s" d="M627.7 386.4 L638.5 396.4 L632.3 406.3 L621.5 398.3Z"/>
<path class="s" d="M621.5 398.3 L632.3 406.3 L626.0 408.0 L615.3 404.3Z"/>
<path class="s" d="M615.3 404.3 L626.0 408.0 L619.8 426.9 L609.0 423.3Z"/>
<path class="s" d="M609.0 423.3 L619.8 426.9 L613.6 442.3 L602.8 440.0Z"/>
<path class="s" d="M602.8 440.0 L613.6 442.3 L607.3 454.4 L596.6 450.6Z"/>
<path class="s" d="M596.6 450.6 L607.3 454.4 L601.1 467.9 L590.3 462.2Z"/>
<path class="s" d="M590.3 462.2 L601.1 467.9 L594.9 472.8 L584.1 469.4Z"/>
<path class="s" d="M584.1 469.4 L594.9 472.8 L588.6 479.2 L577.9 486.0Z"/>
<path class="s" d="M577.9 486.0 L588.6 479.2 L582.4 489.3 L571.6 488.8Z"/>
<path class="s" d="M571.6 488.8 L582.4 489.3 L576.2 507.0 L565.4 503.4Z"/>
<path class="s" d="M565.4 503.4 L576.2 507.0 L569.9 505.4 L559.2 507.4Z"/>
<path class="s" d="M559.2 507.4 L569.9 505.4 L563.7 518.7 L552.9 522.3Z"/>
<path class="s" d="M552.9 522.3 L563.7 518.7 L557.5 529.9 L546.7 527.8Z"/>
<path class="s" d="M546.7 527.8 L557.5 529.9 L551.3 536.8 L540.5 535.5Z"/>
<path class="s" d="M540.5 535.5 L551.3 536.8 L545.0 545.8 L534.3 540.9Z"/>
<path class="s" d="M534.3 540.9 L545.0 545.8 L538.8 551.6 L528.0 549.4Z"/>
<path class="s" d="M528.0 549.4 L538.8 551.6 L532.6 556.8 L521.8 543.1Z"/>
<path class="s" d="M521.8 543.1 L532.6 556.8 L526.3 560.5 L515.6 548.9Z"/>
<path class="s" d="M515.6 548.9 L526.3 560.5 L520.1 561.6 L509.3 556.6Z"/>
<path class="t" d="M509.3 556.6 L520.1 561.6 L513.9 553.5 L503.1 551.2Z"/>
<path class="s" d="M503.1 551.2 L513.9 553.5 L507.6 554.3 L496.9 549.3Z"/>
<path class="s" d="M750.7 259.1 L761.4 267.2 L755.2 270.0 L744.4 262.3Z"/>
<path class="s" d="M744.4 262.3 L755.2 270.0 L749.0 272.1 L738.2 276.2Z"/>
<path class="s" d="M738.2 276.2 L749.0 272.1 L742.7 292.3 L732.0 287.5Z"/>
<path class="s" d="M732.0 287.5 L742.7 292.3 L736.5 289.9 L725.7 293.7Z"/>
<path class="s" d="M725.7 293.7 L736.5 289.9 L730.3 300.4 L719.5 293.5Z"/>
<path class="s" d="M719.5 293.5 L730.3 300.4 L724.0 304.6 L713.3 299.9Z"/>
<path class="s" d="M713.3 299.9 L724.0 304.6 L717.8 314.3 L707.0 314.3Z"/>
<path class="s" d="M707.0 314.3 L717.8 314.3 L711.6 313.9 L700.8 322.9Z"/>
<path class="s" d="M700.8 322.9 L711.6 313.9 L705.3 334.6 L694.6 328.2Z"/>
<path class="s" d="M694.6 328.2 L705.3 334.6 L699.1 344.3 L688.3 329.7Z"/>
<path class="s" d="M688.3 329.7 L699.1 344.3 L692.9 341.3 L682.1 350.5Z"/>
<path class="s" d="M682.1 350.5 L692.9 341.3 L686.6 353.7 L675.9 346.9Z"/>
<path class="s" d="M675.9 346.9 L686.6 353.7 L680.4 358.0 L669.6 355.7Z"/>
<path class="s" d="M669.6 355.7 L680.4 358.0 L674.2 363.5 L663.4 358.9Z"/>
<path class="s" d="M663.4 358.9 L674.2 363.5 L668.0 371.2 L657.2 366.7Z"/>
<path class="s" d="M657.2 366.7 L668.0 371.2 L661.7 380.2 L651.0 377.3Z"/>
<path class="s" d="M651.0 377.3 L661.7 380.2 L655.5 386.5 L644.7 388.0Z"/>
<path class="s" d="M644.7 388.0 L655.5 386.5 L649.3 393.4 L638.5 396.4Z"/>
<path class="s" d="M638.5 396.4 L649.3 393.4 L643.0 400.5 L632.3 406.3Z"/>
<path class="s" d="M632.3 406.3 L643.0 400.5 L636.8 415.0 L626.0 408.0Z"/>
<path class="s" d="M626.0 408.0 L636.8 415.0 L630.6 430.7 L619.8 426.9Z"/>
<path class="s" d="M619.8 426.9 L630.6 430.7 L624.3 446.1 L613.6 442.3Z"/>
<path class="s" d="M613.6 442.3 L624.3 446.1 L618.1 454.0 L607.3 454.4Z"/>
<path class="s" d="M607.3 454.4 L618.1 454.0 L611.9 466.4 L601.1 467.9Z"/>
<path class="s" d="M601.1 467.9 L611.9 466.4 L605.6 474.3 L594.9 472.8Z"/>
<path class="s" d="M594.9 472.8 L605.6 474.3 L599.4 483.8 L588.6 479.2Z"/>
<path class="s" d="M588.6 479.2 L599.4 483.8 L593.2 489.9 L582.4 489.3Z"/>
<path class="s" d="M582.4 489.3 L593.2 489.9 L586.9 503.7 L576.2 507.0Z"/>
<path class="s" d="M576.2 507.0 L586.9 503.7 L580.7 508.4 L569.9 505.4Z"/>
<path class="s" d="M569.9 505.4 L580.7 508.4 L574.5 520.0 L563.7 518.7Z"/>
<path class="s" d="M563.7 518.7 L574.5 520.0 L568.3 526.1 L557.5 529.9Z"/>
<path class="s" d="M557.5 529.9 L568.3 526.1 L562.0 531.3 L551.3 536.8Z"/>
<path class="s" d="M551.3 536.8 L562.0 531.3 L555.8 542.7 L545.0 545.8Z"/>
<path class="s" d="M545.0 545.8 L555.8 542.7 L549.6 547.1 L538.8 551.6Z"/>
<path class="s" d="M538.8 551.6 L549.6 547.1 L543.3 563.5 L532.6 556.8Z"/>
<path class="s" d="M532.6 556.8 L543.3 563.5 L537.1 561.6 L526.3 560.5Z"/>
<path class="s" d="M526.3 560.5 L537.1 561.6 L530.9 585.3 L520.1 561.6Z"/>
<path class="t" d="M520.1 561.6 L530.9 585.3 L524.6 566.7 L513.9 553.5Z"/>
<path class="t" d="M513.9 553.5 L524.6 566.7 L518.4 555.9 L507.6 554.3Z"/>
<path class="s" d="M761.4 267.2 L772.2 275.4 L766.0 280.7 L755.2 270.0Z"/>
<path class="s" d="M755.2 270.0 L766.0 280.7 L759.7 281.1 L749.0 272.1Z"/>
<path class="s" d="M749.0 272.1 L759.7 281.1 L753.5 285.6 L742.7 292.3Z"/>
<path class="s" d="M742.7 292.3 L753.5 285.6 L747.3 292.0 L736.5 289.9Z"/>
<path class="s" d="M736.5 289.9 L747.3 292.0 L741.0 299.9 L730.3 300.4Z"/>
<path class="s" d="M730.3 300.4 L741.0 299.9 L734.8 306.6 L724.0 304.6Z"/>
<path class="t" d="M724.0 304.6 L734.8 306.6 L728.6 290.4 L717.8 314.3Z"/>
<path class="s" d="M717.8 314.3 L728.6 290.4 L722.3 323.6 L711.6 313.9Z"/>
<path class="s" d="M711.6 313.9 L722.3 323.6 L716.1 330.4 L705.3 334.6Z"/>
<path class="s" d="M705.3 334.6 L716.1 330.4 L709.9 342.6 L699.1 344.3Z"/>
<path class="s" d="M699.1 344.3 L709.9 342.6 L703.6 352.3 L692.9 341.3Z"/>
<path class="s" d="M692.9 341.3 L703.6 352.3 L697.4 352.9 L686.6 353.7Z"/>
<path class="s" d="M686.6 353.7 L697.4 352.9 L691.2 357.5 L680.4 358.0Z"/>
<path class="s" d="M680.4 358.0 L691.2 357.5 L685.0 373.6 L674.2 363.5Z"/>
<path class="s" d="M674.2 363.5 L685.0 373.6 L678.7 373.3 L668.0 371.2Z"/>
<path class="s" d="M668.0 371.2 L678.7 373.3 L672.5 375.6 L661.7 380.2Z"/>
<path class="s" d="M661.7 380.2 L672.5 375.6 L666.3 387.1 L655.5 386.5Z"/>
<path class="s" d="M655.5 386.5 L666.3 387.1 L660.0 395.1 L649.3 393.4Z"/>
<path class="s" d="M649.3 393.4 L660.0 395.1 L653.8 404.1 L643.0 400.5Z"/>
<path class="s" d="M643.0 400.5 L653.8 404.1 L647.6 412.9 L636.8 415.0Z"/>
<path class="s" d="M636.8 415.0 L647.6 412.9 L641.3 433.5 L630.6 430.7Z"/>
<path class="s" d="M630.6 430.7 L641.3 433.5 L635.1 447.7 L624.3 446.1Z"/>
<path class="s" d="M624.3 446.1 L635.1 447.7 L628.9 456.8 L618.1 454.0Z"/>
<path class="s" d="M618.1 454.0 L628.9 456.8 L622.6 470.5 L611.9 466.4Z"/>
<path class="s" d="M611.9 466.4 L622.6 470.5 L616.4 477.4 L605.6 474.3Z"/>
<path class="s" d="M605.6 474.3 L616.4 477.4 L610.2 493.2 L599.4 483.8Z"/>
<path class="s" d="M599.4 483.8 L610.2 493.2 L603.9 494.8 L593.2 489.9Z"/>
<path class="s" d="M593.2 489.9 L603.9 494.8 L597.7 504.0 L586.9 503.7Z"/>
<path class="s" d="M586.9 503.7 L597.7 504.0 L591.5 512.7 L580.7 508.4Z"/>
<path class="s" d="M580.7 508.4 L591.5 512.7 L585.3 518.0 L574.5 520.0Z"/>
<path class="s" d="M574.5 520.0 L585.3 518.0 L579.0 519.3 L568.3 526.1Z"/>
<path class="s" d="M568.3 526.1 L579.0 519.3 L572.8 532.9 L562.0 531.3Z"/>
<path class="s" d="M562.0 531.3 L572.8 532.9 L566.6 538.8 L555.8 542.7Z"/>
<path class="s" d="M555.8 542.7 L566.6 538.8 L560.3 545.8 L549.6 547.1Z"/>
<path class="s" d="M549.6 547.1 L560.3 545.8 L554.1 555.1 L543.3 563.5Z"/>
<path class="s" d="M543.3 563.5 L554.1 555.1 L547.9 570.5 L537.1 561.6Z"/>
<path class="s" d="M537.1 561.6 L547.9 570.5 L541.6 572.2 L530.9 585.3Z"/>
<path class="t" d="M530.9 585.3 L541.6 572.2 L535.4 569.6 L524.6 566.7Z"/>
<path class="t" d="M524.6 566.7 L535.4 569.6 L529.2 561.7 L518.4 555.9Z"/>
<path class="s" d="M772.2 275.4 L783.0 286.2 L776.7 277.2 L766.0 280.7Z"/>
<path class="s" d="M766.0 280.7 L776.7 277.2 L770.5 283.1 L759.7 281.1Z"/>
<path class="s" d="M759.7 281.1 L770.5 283.1 L764.3 291.0 L753.5 285.6Z"/>
<path class="s" d="M753.5 285.6 L764.3 291.0 L758.0 295.1 L747.3 292.0Z"/>
<path class="s" d="M747.3 292.0 L758.0 295.1 L751.8 299.5 L741.0 299.9Z"/>
<path class="s" d="M741.0 299.9 L751.8 299.5 L745.6 304.6 L734.8 306.6Z"/>
<path class="s" d="M734.8 306.6 L745.6 304.6 L739.3 316.9 L728.6 290.4Z"/>
<path class="s" d="M728.6 290.4 L739.3 316.9 L733.1 329.4 L722.3 323.6Z"/>
<path class="s" d="M722.3 323.6 L733.1 329.4 L726.9 339.2 L716.1 330.4Z"/>
<path class="s" d="M716.1 330.4 L726.9 339.2 L720.6 346.5 L709.9 342.6Z"/>
<path class="s" d="M709.9 342.6 L720.6 346.5 L714.4 353.2 L703.6 352.3Z"/>
<path class="t" d="M703.6 352.3 L714.4 353.2 L708.2 351.6 L697.4 352.9Z"/>
<path class="s" d="M697.4 352.9 L708.2 351.6 L702.0 364.5 L691.2 357.5Z"/>
<path class="s" d="M691.2 357.5 L702.0 364.5 L695.7 373.8 L685.0 373.6Z"/>
<path class="s" d="M685.0 373.6 L695.7 373.8 L689.5 378.4 L678.7 373.3Z"/>
<path class="s" d="M678.7 373.3 L689.5 378.4 L683.3 386.5 L672.5 375.6Z"/>
<path class="s" d="M672.5 375.6 L683.3 386.5 L677.0 390.7 L666.3 387.1Z"/>
<path class="s" d="M666.3 387.1 L677.0 390.7 L670.8 401.6 L660.0 395.1Z"/>
<path class="s" d="M660.0 395.1 L670.8 401.6 L664.6 405.9 L653.8 404.1Z"/>
<path class="s" d="M653.8 404.1 L664.6 405.9 L658.3 417.1 L647.6 412.9Z"/>
<path class="s" d="M647.6 412.9 L658.3 417.1 L652.1 429.2 L641.3 433.5Z"/>
<path class="s" d="M641.3 433.5 L652.1 429.2 L645.9 441.1 L635.1 447.7Z"/>
<path class="s" d="M635.1 447.7 L645.9 441.1 L639.6 451.9 L628.9 456.8Z"/>
<path class="s" d="M628.9 456.8 L639.6 451.9 L633.4 466.7 L622.6 470.5Z"/>
<path class="s" d="M622.6 470.5 L633.4 466.7 L627.2 483.7 L616.4 477.4Z"/>
<path class="s" d="M616.4 477.4 L627.2 483.7 L620.9 491.0 L610.2 493.2Z"/>
<path class="s" d="M610.2 493.2 L620.9 491.0 L614.7 498.5 L603.9 494.8Z"/>
<path class="s" d="M603.9 494.8 L614.7 498.5 L608.5 502.7 L597.7 504.0Z"/>
<path class="s" d="M597.7 504.0 L608.5 502.7 L602.3 513.1 L591.5 512.7Z"/>
<path class="s" d="M591.5 512.7 L602.3 513.1 L596.0 517.8 L585.3 518.0Z"/>
<path class="s" d="M585.3 518.0 L596.0 517.8 L589.8 528.1 L579.0 519.3Z"/>
<path class="s" d="M579.0 519.3 L589.8 528.1 L583.6 532.1 L572.8 532.9Z"/>
<path class="s" d="M572.8 532.9 L583.6 532.1 L577.3 537.5 L566.6 538.8Z"/>
<path class="s" d="M566.6 538.8 L577.3 537.5 L571.1 543.8 L560.3 545.8Z"/>
<path class="s" d="M560.3 545.8 L571.1 543.8 L564.9 544.7 L554.1 555.1Z"/>
<path class="s" d="M554.1 555.1 L564.9 544.7 L558.6 555.1 L547.9 570.5Z"/>
<path class="s" d="M547.9 570.5 L558.6 555.1 L552.4 578.4 L541.6 572.2Z"/>
<path class="t" d="M541.6 572.2 L552.4 578.4 L546.2 568.8 L535.4 569.6Z"/>
<path class="t" d="M535.4 569.6 L546.2 568.8 L539.9 554.6 L529.2 561.7Z"/>
<path class="t" d="M783.0 286.2 L793.7 288.3 L787.5 285.9 L776.7 277.2Z"/>
<path class="s" d="M776.7 277.2 L787.5 285.9 L781.3 288.1 L770.5 283.1Z"/>
<path class="s" d="M770.5 283.1 L781.3 288.1 L775.0 293.9 L764.3 291.0Z"/>
<path class="s" d="M764.3 291.0 L775.0 293.9 L768.8 296.7 L758.0 295.1Z"/>
<path class="s" d="M758.0 295.1 L768.8 296.7 L762.6 301.8 L751.8 299.5Z"/>
<path class="s" d="M751.8 299.5 L762.6 301.8 L756.3 309.6 L745.6 304.6Z"/>
<path class="s" d="M745.6 304.6 L756.3 309.6 L750.1 323.0 L739.3 316.9Z"/>
<path class="s" d="M739.3 316.9 L750.1 323.0 L743.9 334.4 L733.1 329.4Z"/>
<path class="s" d="M733.1 329.4 L743.9 334.4 L737.6 341.8 L726.9 339.2Z"/>
<path class="s" d="M726.9 339.2 L737.6 341.8 L731.4 344.5 L720.6 346.5Z"/>
<path class="s" d="M720.6 346.5 L731.4 344.5 L725.2 355.2 L714.4 353.2Z"/>
<path class="s" d="M714.4 353.2 L725.2 355.2 L719.0 359.8 L708.2 351.6Z"/>
<path class="s" d="M708.2 351.6 L719.0 359.8 L712.7 359.2 L702.0 364.5Z"/>
<path class="s" d="M702.0 364.5 L712.7 359.2 L706.5 366.8 L695.7 373.8Z"/>
<path class="s" d="M695.7 373.8 L706.5 366.8 L700.3 380.2 L689.5 378.4Z"/>
<path class="s" d="M689.5 378.4 L700.3 380.2 L694.0 384.6 L683.3 386.5Z"/>
<path class="t" d="M683.3 386.5 L694.0 384.6 L687.8 379.2 L677.0 390.7Z"/>
<path class="s" d="M677.0 390.7 L687.8 379.2 L681.6 396.4 L670.8 401.6Z"/>
<path class="s" d="M670.8 401.6 L681.6 396.4 L675.3 411.4 L664.6 405.9Z"/>
<path class="s" d="M664.6 405.9 L675.3 411.4 L669.1 420.2 L658.3 417.1Z"/>
<path class="s" d="M658.3 417.1 L669.1 420.2 L662.9 431.1 L652.1 429.2Z"/>
<path class="s" d="M652.1 429.2 L662.9 431.1 L656.6 452.1 L645.9 441.1Z"/>
<path class="s" d="M645.9 441.1 L656.6 452.1 L650.4 458.6 L639.6 451.9Z"/>
<path class="s" d="M639.6 451.9 L650.4 458.6 L644.2 517.0 L633.4 466.7Z"/>
<path class="s" d="M633.4 466.7 L644.2 517.0 L637.9 481.9 L627.2 483.7Z"/>
<path class="s" d="M627.2 483.7 L637.9 481.9 L631.7 492.9 L620.9 491.0Z"/>
<path class="s" d="M620.9 491.0 L631.7 492.9 L625.5 501.8 L614.7 498.5Z"/>
<path class="s" d="M614.7 498.5 L625.5 501.8 L619.3 510.5 L608.5 502.7Z"/>
<path class="s" d="M608.5 502.7 L619.3 510.5 L613.0 517.5 L602.3 513.1Z"/>
<path class="s" d="M602.3 513.1 L613.0 517.5 L606.8 526.8 L596.0 517.8Z"/>
<path class="s" d="M596.0 517.8 L606.8 526.8 L600.6 527.7 L589.8 528.1Z"/>
<path class="s" d="M589.8 528.1 L600.6 527.7 L594.3 534.6 L583.6 532.1Z"/>
<path class="s" d="M583.6 532.1 L594.3 534.6 L588.1 538.9 L577.3 537.5Z"/>
<path class="s" d="M577.3 537.5 L588.1 538.9 L581.9 541.5 L571.1 543.8Z"/>
<path class="s" d="M571.1 543.8 L581.9 541.5 L575.6 552.4 L564.9 544.7Z"/>
<path class="s" d="M564.9 544.7 L575.6 552.4 L569.4 547.5 L558.6 555.1Z"/>
<path class="s" d="M558.6 555.1 L569.4 547.5 L563.2 551.9 L552.4 578.4Z"/>
<path class="s" d="M552.4 578.4 L563.2 551.9 L556.9 577.2 L546.2 568.8Z"/>
<path class="t" d="M546.2 568.8 L556.9 577.2 L550.7 558.2 L539.9 554.6Z"/>
<path class="s" d="M793.7 288.3 L804.5 291.1 L798.3 293.4 L787.5 285.9Z"/>
<path class="s" d="M787.5 285.9 L798.3 293.4 L792.0 295.8 L781.3 288.1Z"/>
<path class="s" d="M781.3 288.1 L792.0 295.8 L785.8 294.9 L775.0 293.9Z"/>
<path class="t" d="M775.0 293.9 L785.8 294.9 L779.6 291.0 L768.8 296.7Z"/>
<path class="s" d="M768.8 296.7 L779.6 291.0 L773.3 301.7 L762.6 301.8Z"/>
<path class="s" d="M762.6 301.8 L773.3 301.7 L767.1 314.2 L756.3 309.6Z"/>
<path class="s" d="M756.3 309.6 L767.1 314.2 L760.9 323.7 L750.1 323.0Z"/>
<path class="s" d="M750.1 323.0 L760.9 323.7 L754.6 335.0 L743.9 334.4Z"/>
<path class="s" d="M743.9 334.4 L754.6 335.0 L748.4 342.4 L737.6 341.8Z"/>
<path class="s" d="M737.6 341.8 L748.4 342.4 L742.2 347.4 L731.4 344.5Z"/>
<path class="s" d="M731.4 344.5 L742.2 347.4 L736.0 361.5 L725.2 355.2Z"/>
<path class="s" d="M725.2 355.2 L736.0 361.5 L729.7 359.1 L719.0 359.8Z"/>
<path class="s" d="M719.0 359.8 L729.7 359.1 L723.5 362.1 L712.7 359.2Z"/>
<path class="s" d="M712.7 359.2 L723.5 362.1 L717.3 372.9 L706.5 366.8Z"/>
<path class="s" d="M706.5 366.8 L717.3 372.9 L711.0 381.5 L700.3 380.2Z"/>
<path class="s" d="M700.3 380.2 L711.0 381.5 L704.8 385.4 L694.0 384.6Z"/>
<path class="s" d="M694.0 384.6 L704.8 385.4 L698.6 399.9 L687.8 379.2Z"/>
<path class="s" d="M687.8 379.2 L698.6 399.9 L692.3 407.1 L681.6 396.4Z"/>
<path class="s" d="M681.6 396.4 L692.3 407.1 L686.1 416.0 L675.3 411.4Z"/>
<path class="s" d="M675.3 411.4 L686.1 416.0 L679.9 423.2 L669.1 420.2Z"/>
<path class="s" d="M669.1 420.2 L679.9 423.2 L673.6 436.2 L662.9 431.1Z"/>
<path class="s" d="M662.9 431.1 L673.6 436.2 L667.4 452.2 L656.6 452.1Z"/>
<path class="s" d="M656.6 452.1 L667.4 452.2 L661.2 463.1 L650.4 458.6Z"/>
<path class="s" d="M650.4 458.6 L661.2 463.1 L654.9 472.7 L644.2 517.0Z"/>
<path class="t" d="M644.2 517.0 L654.9 472.7 L648.7 483.3 L637.9 481.9Z"/>
<path class="s" d="M637.9 481.9 L648.7 483.3 L642.5 496.6 L631.7 492.9Z"/>
<path class="s" d="M631.7 492.9 L642.5 496.6 L636.3 504.5 L625.5 501.8Z"/>
<path class="s" d="M625.5 501.8 L636.3 504.5 L630.0 509.5 L619.3 510.5Z"/>
<path class="s" d="M619.3 510.5 L630.0 509.5 L623.8 522.6 L613.0 517.5Z"/>
<path class="s" d="M613.0 517.5 L623.8 522.6 L617.6 525.9 L606.8 526.8Z"/>
<path class="s" d="M606.8 526.8 L617.6 525.9 L611.3 532.0 L600.6 527.7Z"/>
<path class="s" d="M600.6 527.7 L611.3 532.0 L605.1 536.9 L594.3 534.6Z"/>
<path class="s" d="M594.3 534.6 L605.1 536.9 L598.9 544.8 L588.1 538.9Z"/>
<path class="s" d="M588.1 538.9 L598.9 544.8 L592.6 548.5 L581.9 541.5Z"/>
<path class="t" d="M581.9 541.5 L592.6 548.5 L586.4 539.9 L575.6 552.4Z"/>
<path class="t" d="M575.6 552.4 L586.4 539.9 L580.2 547.5 L569.4 547.5Z"/>
<path class="s" d="M569.4 547.5 L580.2 547.5 L573.9 587.2 L563.2 551.9Z"/>
<path class="t" d="M563.2 551.9 L573.9 587.2 L567.7 543.4 L556.9 577.2Z"/>
<path class="t" d="M556.9 577.2 L567.7 543.4 L561.5 561.0 L550.7 558.2Z"/></g>
<g><path class="b" d="M575.3 650.8 L575.3 325.1"/>
<path class="b" d="M122.5 231.4 L575.3 325.1 L837.3 162.1"/></g>
<g><text x="108.9" y="559.8" text-anchor="end">190</text>
<text x="108.9" y="519.1" text-anchor="end">200</text>
<text x="108.9" y="478.4" text-anchor="end">210</text>
<text x="108.9" y="437.7" text-anchor="end">220</text>
<text x="108.9" y="396.9" text-anchor="end">230</text>
<text x="108.9" y="356.2" text-anchor="end">240</text>
<text x="108.9" y="315.5" text-anchor="end">250</text>
<text x="108.9" y="274.8" text-anchor="end">260</text>
<text x="108.9" y="234.1" text-anchor="end">270</text>
<text x="119.1" y="562.9" text-anchor="middle">0</text>
<text x="846.5" y="492.3">0</text>
<text x="169.4" y="573.3" text-anchor="middle">500</text>
<text x="817.4" y="510.4">500</text>
<text x="219.7" y="583.7" text-anchor="middle">1000</text>
<text x="788.3" y="528.5">1000</text>
<text x="270.0" y="594.1" text-anchor="middle">1500</text>
<text x="759.2" y="546.6">1500</text>
<text x="320.3" y="604.5" text-anchor="middle">2000</text>
<text x="730.1" y="564.7">2000</text>
<text x="370.7" y="615.0" text-anchor="middle">2500</text>
<text x="700.9" y="582.9">2500</text>
<text x="421.0" y="625.4" text-anchor="middle">3000</text>
<text x="671.8" y="601.0">3000</text>
<text x="471.3" y="635.8" text-anchor="middle">3500</text>
<text x="642.7" y="619.1">3500</text>
<text x="521.6" y="646.2" text-anchor="middle">4000</text>
<text x="613.6" y="637.2">4000</text>
<text x="571.9" y="656.6" text-anchor="middle">4500</text>
<text x="584.5" y="655.3">4500</text>
<text x="355.2" y="25.2" textLength="249.5" lengthAdjust="spacingAndGlyphs">[tortuga] Sony DRU-810A 8x DVD-RW IDE CFQ</text>
<text x="28.5" y="395.5" textLength="91" lengthAdjust="spacingAndGlyphs">Seek Speed (ms)</text>
<text x="256.3" y="631.2" textLength="102.5" lengthAdjust="spacingAndGlyphs">Ending Offset (MB)</text>
<text x="724" y="586.4" textLength="108" lengthAdjust="spacingAndGlyphs">Starting Offset (MB)</text></g>
</svg></body></html>
